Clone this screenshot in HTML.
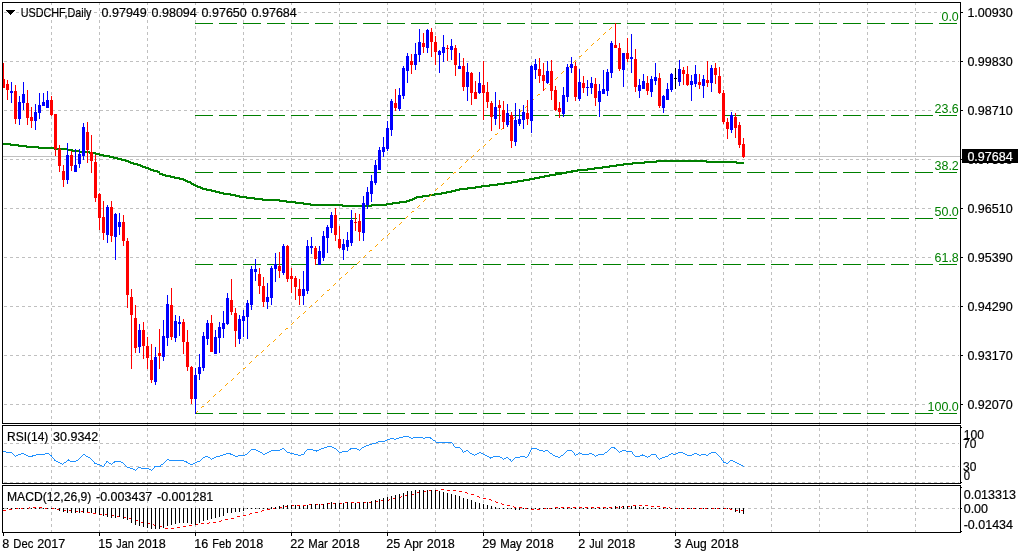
<!DOCTYPE html>
<html lang="en">
<head>
<meta charset="utf-8">
<title>USDCHF, Daily</title>
<style>
html,body{margin:0;padding:0;background:#fff;}
body{width:1020px;height:556px;overflow:hidden;}
svg{display:block;font-family:"Liberation Sans",sans-serif;}
svg text{paint-order:stroke;}
svg path, svg rect{shape-rendering:crispEdges;}
</style>
</head>
<body>
<svg width="1020" height="556" viewBox="0 0 1020 556">
<rect x="0" y="0" width="1020" height="556" fill="#fff"/>
<path fill="#c0c0c0" d="M51 3h1v2h-1zM51 8h1v3h-1zM51 14h1v3h-1zM51 20h1v3h-1zM51 26h1v3h-1zM51 32h1v3h-1zM51 38h1v3h-1zM51 44h1v3h-1zM51 50h1v3h-1zM51 56h1v3h-1zM51 62h1v3h-1zM51 68h1v3h-1zM51 74h1v3h-1zM51 80h1v3h-1zM51 86h1v3h-1zM51 92h1v3h-1zM51 98h1v3h-1zM51 104h1v3h-1zM51 110h1v3h-1zM51 116h1v3h-1zM51 122h1v3h-1zM51 128h1v3h-1zM51 134h1v3h-1zM51 140h1v3h-1zM51 146h1v3h-1zM51 152h1v3h-1zM51 158h1v3h-1zM51 164h1v3h-1zM51 170h1v3h-1zM51 176h1v3h-1zM51 182h1v3h-1zM51 188h1v3h-1zM51 194h1v3h-1zM51 200h1v3h-1zM51 206h1v3h-1zM51 212h1v3h-1zM51 218h1v3h-1zM51 224h1v3h-1zM51 230h1v3h-1zM51 236h1v3h-1zM51 242h1v3h-1zM51 248h1v3h-1zM51 254h1v3h-1zM51 260h1v3h-1zM51 266h1v3h-1zM51 272h1v3h-1zM51 278h1v3h-1zM51 284h1v3h-1zM51 290h1v3h-1zM51 296h1v3h-1zM51 302h1v3h-1zM51 308h1v3h-1zM51 314h1v3h-1zM51 320h1v3h-1zM51 326h1v3h-1zM51 332h1v3h-1zM51 338h1v3h-1zM51 344h1v3h-1zM51 350h1v3h-1zM51 356h1v3h-1zM51 362h1v3h-1zM51 368h1v3h-1zM51 374h1v3h-1zM51 380h1v3h-1zM51 386h1v3h-1zM51 392h1v3h-1zM51 398h1v3h-1zM51 404h1v3h-1zM51 410h1v3h-1zM51 416h1v3h-1zM51 422h1v3h-1zM51 428h1v3h-1zM51 434h1v3h-1zM51 440h1v3h-1zM51 446h1v3h-1zM51 452h1v3h-1zM51 458h1v3h-1zM51 464h1v3h-1zM51 470h1v3h-1zM51 476h1v3h-1zM51 482h1v3h-1zM51 488h1v3h-1zM51 494h1v3h-1zM51 500h1v3h-1zM51 506h1v3h-1zM51 512h1v3h-1zM51 518h1v3h-1zM51 524h1v3h-1zM51 530h1v2h-1z"/>
<path fill="#c0c0c0" d="M99 3h1v2h-1zM99 8h1v3h-1zM99 14h1v3h-1zM99 20h1v3h-1zM99 26h1v3h-1zM99 32h1v3h-1zM99 38h1v3h-1zM99 44h1v3h-1zM99 50h1v3h-1zM99 56h1v3h-1zM99 62h1v3h-1zM99 68h1v3h-1zM99 74h1v3h-1zM99 80h1v3h-1zM99 86h1v3h-1zM99 92h1v3h-1zM99 98h1v3h-1zM99 104h1v3h-1zM99 110h1v3h-1zM99 116h1v3h-1zM99 122h1v3h-1zM99 128h1v3h-1zM99 134h1v3h-1zM99 140h1v3h-1zM99 146h1v3h-1zM99 152h1v3h-1zM99 158h1v3h-1zM99 164h1v3h-1zM99 170h1v3h-1zM99 176h1v3h-1zM99 182h1v3h-1zM99 188h1v3h-1zM99 194h1v3h-1zM99 200h1v3h-1zM99 206h1v3h-1zM99 212h1v3h-1zM99 218h1v3h-1zM99 224h1v3h-1zM99 230h1v3h-1zM99 236h1v3h-1zM99 242h1v3h-1zM99 248h1v3h-1zM99 254h1v3h-1zM99 260h1v3h-1zM99 266h1v3h-1zM99 272h1v3h-1zM99 278h1v3h-1zM99 284h1v3h-1zM99 290h1v3h-1zM99 296h1v3h-1zM99 302h1v3h-1zM99 308h1v3h-1zM99 314h1v3h-1zM99 320h1v3h-1zM99 326h1v3h-1zM99 332h1v3h-1zM99 338h1v3h-1zM99 344h1v3h-1zM99 350h1v3h-1zM99 356h1v3h-1zM99 362h1v3h-1zM99 368h1v3h-1zM99 374h1v3h-1zM99 380h1v3h-1zM99 386h1v3h-1zM99 392h1v3h-1zM99 398h1v3h-1zM99 404h1v3h-1zM99 410h1v3h-1zM99 416h1v3h-1zM99 422h1v3h-1zM99 428h1v3h-1zM99 434h1v3h-1zM99 440h1v3h-1zM99 446h1v3h-1zM99 452h1v3h-1zM99 458h1v3h-1zM99 464h1v3h-1zM99 470h1v3h-1zM99 476h1v3h-1zM99 482h1v3h-1zM99 488h1v3h-1zM99 494h1v3h-1zM99 500h1v3h-1zM99 506h1v3h-1zM99 512h1v3h-1zM99 518h1v3h-1zM99 524h1v3h-1zM99 530h1v2h-1z"/>
<path fill="#c0c0c0" d="M147 3h1v2h-1zM147 8h1v3h-1zM147 14h1v3h-1zM147 20h1v3h-1zM147 26h1v3h-1zM147 32h1v3h-1zM147 38h1v3h-1zM147 44h1v3h-1zM147 50h1v3h-1zM147 56h1v3h-1zM147 62h1v3h-1zM147 68h1v3h-1zM147 74h1v3h-1zM147 80h1v3h-1zM147 86h1v3h-1zM147 92h1v3h-1zM147 98h1v3h-1zM147 104h1v3h-1zM147 110h1v3h-1zM147 116h1v3h-1zM147 122h1v3h-1zM147 128h1v3h-1zM147 134h1v3h-1zM147 140h1v3h-1zM147 146h1v3h-1zM147 152h1v3h-1zM147 158h1v3h-1zM147 164h1v3h-1zM147 170h1v3h-1zM147 176h1v3h-1zM147 182h1v3h-1zM147 188h1v3h-1zM147 194h1v3h-1zM147 200h1v3h-1zM147 206h1v3h-1zM147 212h1v3h-1zM147 218h1v3h-1zM147 224h1v3h-1zM147 230h1v3h-1zM147 236h1v3h-1zM147 242h1v3h-1zM147 248h1v3h-1zM147 254h1v3h-1zM147 260h1v3h-1zM147 266h1v3h-1zM147 272h1v3h-1zM147 278h1v3h-1zM147 284h1v3h-1zM147 290h1v3h-1zM147 296h1v3h-1zM147 302h1v3h-1zM147 308h1v3h-1zM147 314h1v3h-1zM147 320h1v3h-1zM147 326h1v3h-1zM147 332h1v3h-1zM147 338h1v3h-1zM147 344h1v3h-1zM147 350h1v3h-1zM147 356h1v3h-1zM147 362h1v3h-1zM147 368h1v3h-1zM147 374h1v3h-1zM147 380h1v3h-1zM147 386h1v3h-1zM147 392h1v3h-1zM147 398h1v3h-1zM147 404h1v3h-1zM147 410h1v3h-1zM147 416h1v3h-1zM147 422h1v3h-1zM147 428h1v3h-1zM147 434h1v3h-1zM147 440h1v3h-1zM147 446h1v3h-1zM147 452h1v3h-1zM147 458h1v3h-1zM147 464h1v3h-1zM147 470h1v3h-1zM147 476h1v3h-1zM147 482h1v3h-1zM147 488h1v3h-1zM147 494h1v3h-1zM147 500h1v3h-1zM147 506h1v3h-1zM147 512h1v3h-1zM147 518h1v3h-1zM147 524h1v3h-1zM147 530h1v2h-1z"/>
<path fill="#c0c0c0" d="M195 3h1v2h-1zM195 8h1v3h-1zM195 14h1v3h-1zM195 20h1v3h-1zM195 26h1v3h-1zM195 32h1v3h-1zM195 38h1v3h-1zM195 44h1v3h-1zM195 50h1v3h-1zM195 56h1v3h-1zM195 62h1v3h-1zM195 68h1v3h-1zM195 74h1v3h-1zM195 80h1v3h-1zM195 86h1v3h-1zM195 92h1v3h-1zM195 98h1v3h-1zM195 104h1v3h-1zM195 110h1v3h-1zM195 116h1v3h-1zM195 122h1v3h-1zM195 128h1v3h-1zM195 134h1v3h-1zM195 140h1v3h-1zM195 146h1v3h-1zM195 152h1v3h-1zM195 158h1v3h-1zM195 164h1v3h-1zM195 170h1v3h-1zM195 176h1v3h-1zM195 182h1v3h-1zM195 188h1v3h-1zM195 194h1v3h-1zM195 200h1v3h-1zM195 206h1v3h-1zM195 212h1v3h-1zM195 218h1v3h-1zM195 224h1v3h-1zM195 230h1v3h-1zM195 236h1v3h-1zM195 242h1v3h-1zM195 248h1v3h-1zM195 254h1v3h-1zM195 260h1v3h-1zM195 266h1v3h-1zM195 272h1v3h-1zM195 278h1v3h-1zM195 284h1v3h-1zM195 290h1v3h-1zM195 296h1v3h-1zM195 302h1v3h-1zM195 308h1v3h-1zM195 314h1v3h-1zM195 320h1v3h-1zM195 326h1v3h-1zM195 332h1v3h-1zM195 338h1v3h-1zM195 344h1v3h-1zM195 350h1v3h-1zM195 356h1v3h-1zM195 362h1v3h-1zM195 368h1v3h-1zM195 374h1v3h-1zM195 380h1v3h-1zM195 386h1v3h-1zM195 392h1v3h-1zM195 398h1v3h-1zM195 404h1v3h-1zM195 410h1v3h-1zM195 416h1v3h-1zM195 422h1v3h-1zM195 428h1v3h-1zM195 434h1v3h-1zM195 440h1v3h-1zM195 446h1v3h-1zM195 452h1v3h-1zM195 458h1v3h-1zM195 464h1v3h-1zM195 470h1v3h-1zM195 476h1v3h-1zM195 482h1v3h-1zM195 488h1v3h-1zM195 494h1v3h-1zM195 500h1v3h-1zM195 506h1v3h-1zM195 512h1v3h-1zM195 518h1v3h-1zM195 524h1v3h-1zM195 530h1v2h-1z"/>
<path fill="#c0c0c0" d="M243 3h1v2h-1zM243 8h1v3h-1zM243 14h1v3h-1zM243 20h1v3h-1zM243 26h1v3h-1zM243 32h1v3h-1zM243 38h1v3h-1zM243 44h1v3h-1zM243 50h1v3h-1zM243 56h1v3h-1zM243 62h1v3h-1zM243 68h1v3h-1zM243 74h1v3h-1zM243 80h1v3h-1zM243 86h1v3h-1zM243 92h1v3h-1zM243 98h1v3h-1zM243 104h1v3h-1zM243 110h1v3h-1zM243 116h1v3h-1zM243 122h1v3h-1zM243 128h1v3h-1zM243 134h1v3h-1zM243 140h1v3h-1zM243 146h1v3h-1zM243 152h1v3h-1zM243 158h1v3h-1zM243 164h1v3h-1zM243 170h1v3h-1zM243 176h1v3h-1zM243 182h1v3h-1zM243 188h1v3h-1zM243 194h1v3h-1zM243 200h1v3h-1zM243 206h1v3h-1zM243 212h1v3h-1zM243 218h1v3h-1zM243 224h1v3h-1zM243 230h1v3h-1zM243 236h1v3h-1zM243 242h1v3h-1zM243 248h1v3h-1zM243 254h1v3h-1zM243 260h1v3h-1zM243 266h1v3h-1zM243 272h1v3h-1zM243 278h1v3h-1zM243 284h1v3h-1zM243 290h1v3h-1zM243 296h1v3h-1zM243 302h1v3h-1zM243 308h1v3h-1zM243 314h1v3h-1zM243 320h1v3h-1zM243 326h1v3h-1zM243 332h1v3h-1zM243 338h1v3h-1zM243 344h1v3h-1zM243 350h1v3h-1zM243 356h1v3h-1zM243 362h1v3h-1zM243 368h1v3h-1zM243 374h1v3h-1zM243 380h1v3h-1zM243 386h1v3h-1zM243 392h1v3h-1zM243 398h1v3h-1zM243 404h1v3h-1zM243 410h1v3h-1zM243 416h1v3h-1zM243 422h1v3h-1zM243 428h1v3h-1zM243 434h1v3h-1zM243 440h1v3h-1zM243 446h1v3h-1zM243 452h1v3h-1zM243 458h1v3h-1zM243 464h1v3h-1zM243 470h1v3h-1zM243 476h1v3h-1zM243 482h1v3h-1zM243 488h1v3h-1zM243 494h1v3h-1zM243 500h1v3h-1zM243 506h1v3h-1zM243 512h1v3h-1zM243 518h1v3h-1zM243 524h1v3h-1zM243 530h1v2h-1z"/>
<path fill="#c0c0c0" d="M291 3h1v2h-1zM291 8h1v3h-1zM291 14h1v3h-1zM291 20h1v3h-1zM291 26h1v3h-1zM291 32h1v3h-1zM291 38h1v3h-1zM291 44h1v3h-1zM291 50h1v3h-1zM291 56h1v3h-1zM291 62h1v3h-1zM291 68h1v3h-1zM291 74h1v3h-1zM291 80h1v3h-1zM291 86h1v3h-1zM291 92h1v3h-1zM291 98h1v3h-1zM291 104h1v3h-1zM291 110h1v3h-1zM291 116h1v3h-1zM291 122h1v3h-1zM291 128h1v3h-1zM291 134h1v3h-1zM291 140h1v3h-1zM291 146h1v3h-1zM291 152h1v3h-1zM291 158h1v3h-1zM291 164h1v3h-1zM291 170h1v3h-1zM291 176h1v3h-1zM291 182h1v3h-1zM291 188h1v3h-1zM291 194h1v3h-1zM291 200h1v3h-1zM291 206h1v3h-1zM291 212h1v3h-1zM291 218h1v3h-1zM291 224h1v3h-1zM291 230h1v3h-1zM291 236h1v3h-1zM291 242h1v3h-1zM291 248h1v3h-1zM291 254h1v3h-1zM291 260h1v3h-1zM291 266h1v3h-1zM291 272h1v3h-1zM291 278h1v3h-1zM291 284h1v3h-1zM291 290h1v3h-1zM291 296h1v3h-1zM291 302h1v3h-1zM291 308h1v3h-1zM291 314h1v3h-1zM291 320h1v3h-1zM291 326h1v3h-1zM291 332h1v3h-1zM291 338h1v3h-1zM291 344h1v3h-1zM291 350h1v3h-1zM291 356h1v3h-1zM291 362h1v3h-1zM291 368h1v3h-1zM291 374h1v3h-1zM291 380h1v3h-1zM291 386h1v3h-1zM291 392h1v3h-1zM291 398h1v3h-1zM291 404h1v3h-1zM291 410h1v3h-1zM291 416h1v3h-1zM291 422h1v3h-1zM291 428h1v3h-1zM291 434h1v3h-1zM291 440h1v3h-1zM291 446h1v3h-1zM291 452h1v3h-1zM291 458h1v3h-1zM291 464h1v3h-1zM291 470h1v3h-1zM291 476h1v3h-1zM291 482h1v3h-1zM291 488h1v3h-1zM291 494h1v3h-1zM291 500h1v3h-1zM291 506h1v3h-1zM291 512h1v3h-1zM291 518h1v3h-1zM291 524h1v3h-1zM291 530h1v2h-1z"/>
<path fill="#c0c0c0" d="M339 3h1v2h-1zM339 8h1v3h-1zM339 14h1v3h-1zM339 20h1v3h-1zM339 26h1v3h-1zM339 32h1v3h-1zM339 38h1v3h-1zM339 44h1v3h-1zM339 50h1v3h-1zM339 56h1v3h-1zM339 62h1v3h-1zM339 68h1v3h-1zM339 74h1v3h-1zM339 80h1v3h-1zM339 86h1v3h-1zM339 92h1v3h-1zM339 98h1v3h-1zM339 104h1v3h-1zM339 110h1v3h-1zM339 116h1v3h-1zM339 122h1v3h-1zM339 128h1v3h-1zM339 134h1v3h-1zM339 140h1v3h-1zM339 146h1v3h-1zM339 152h1v3h-1zM339 158h1v3h-1zM339 164h1v3h-1zM339 170h1v3h-1zM339 176h1v3h-1zM339 182h1v3h-1zM339 188h1v3h-1zM339 194h1v3h-1zM339 200h1v3h-1zM339 206h1v3h-1zM339 212h1v3h-1zM339 218h1v3h-1zM339 224h1v3h-1zM339 230h1v3h-1zM339 236h1v3h-1zM339 242h1v3h-1zM339 248h1v3h-1zM339 254h1v3h-1zM339 260h1v3h-1zM339 266h1v3h-1zM339 272h1v3h-1zM339 278h1v3h-1zM339 284h1v3h-1zM339 290h1v3h-1zM339 296h1v3h-1zM339 302h1v3h-1zM339 308h1v3h-1zM339 314h1v3h-1zM339 320h1v3h-1zM339 326h1v3h-1zM339 332h1v3h-1zM339 338h1v3h-1zM339 344h1v3h-1zM339 350h1v3h-1zM339 356h1v3h-1zM339 362h1v3h-1zM339 368h1v3h-1zM339 374h1v3h-1zM339 380h1v3h-1zM339 386h1v3h-1zM339 392h1v3h-1zM339 398h1v3h-1zM339 404h1v3h-1zM339 410h1v3h-1zM339 416h1v3h-1zM339 422h1v3h-1zM339 428h1v3h-1zM339 434h1v3h-1zM339 440h1v3h-1zM339 446h1v3h-1zM339 452h1v3h-1zM339 458h1v3h-1zM339 464h1v3h-1zM339 470h1v3h-1zM339 476h1v3h-1zM339 482h1v3h-1zM339 488h1v3h-1zM339 494h1v3h-1zM339 500h1v3h-1zM339 506h1v3h-1zM339 512h1v3h-1zM339 518h1v3h-1zM339 524h1v3h-1zM339 530h1v2h-1z"/>
<path fill="#c0c0c0" d="M387 3h1v2h-1zM387 8h1v3h-1zM387 14h1v3h-1zM387 20h1v3h-1zM387 26h1v3h-1zM387 32h1v3h-1zM387 38h1v3h-1zM387 44h1v3h-1zM387 50h1v3h-1zM387 56h1v3h-1zM387 62h1v3h-1zM387 68h1v3h-1zM387 74h1v3h-1zM387 80h1v3h-1zM387 86h1v3h-1zM387 92h1v3h-1zM387 98h1v3h-1zM387 104h1v3h-1zM387 110h1v3h-1zM387 116h1v3h-1zM387 122h1v3h-1zM387 128h1v3h-1zM387 134h1v3h-1zM387 140h1v3h-1zM387 146h1v3h-1zM387 152h1v3h-1zM387 158h1v3h-1zM387 164h1v3h-1zM387 170h1v3h-1zM387 176h1v3h-1zM387 182h1v3h-1zM387 188h1v3h-1zM387 194h1v3h-1zM387 200h1v3h-1zM387 206h1v3h-1zM387 212h1v3h-1zM387 218h1v3h-1zM387 224h1v3h-1zM387 230h1v3h-1zM387 236h1v3h-1zM387 242h1v3h-1zM387 248h1v3h-1zM387 254h1v3h-1zM387 260h1v3h-1zM387 266h1v3h-1zM387 272h1v3h-1zM387 278h1v3h-1zM387 284h1v3h-1zM387 290h1v3h-1zM387 296h1v3h-1zM387 302h1v3h-1zM387 308h1v3h-1zM387 314h1v3h-1zM387 320h1v3h-1zM387 326h1v3h-1zM387 332h1v3h-1zM387 338h1v3h-1zM387 344h1v3h-1zM387 350h1v3h-1zM387 356h1v3h-1zM387 362h1v3h-1zM387 368h1v3h-1zM387 374h1v3h-1zM387 380h1v3h-1zM387 386h1v3h-1zM387 392h1v3h-1zM387 398h1v3h-1zM387 404h1v3h-1zM387 410h1v3h-1zM387 416h1v3h-1zM387 422h1v3h-1zM387 428h1v3h-1zM387 434h1v3h-1zM387 440h1v3h-1zM387 446h1v3h-1zM387 452h1v3h-1zM387 458h1v3h-1zM387 464h1v3h-1zM387 470h1v3h-1zM387 476h1v3h-1zM387 482h1v3h-1zM387 488h1v3h-1zM387 494h1v3h-1zM387 500h1v3h-1zM387 506h1v3h-1zM387 512h1v3h-1zM387 518h1v3h-1zM387 524h1v3h-1zM387 530h1v2h-1z"/>
<path fill="#c0c0c0" d="M435 3h1v2h-1zM435 8h1v3h-1zM435 14h1v3h-1zM435 20h1v3h-1zM435 26h1v3h-1zM435 32h1v3h-1zM435 38h1v3h-1zM435 44h1v3h-1zM435 50h1v3h-1zM435 56h1v3h-1zM435 62h1v3h-1zM435 68h1v3h-1zM435 74h1v3h-1zM435 80h1v3h-1zM435 86h1v3h-1zM435 92h1v3h-1zM435 98h1v3h-1zM435 104h1v3h-1zM435 110h1v3h-1zM435 116h1v3h-1zM435 122h1v3h-1zM435 128h1v3h-1zM435 134h1v3h-1zM435 140h1v3h-1zM435 146h1v3h-1zM435 152h1v3h-1zM435 158h1v3h-1zM435 164h1v3h-1zM435 170h1v3h-1zM435 176h1v3h-1zM435 182h1v3h-1zM435 188h1v3h-1zM435 194h1v3h-1zM435 200h1v3h-1zM435 206h1v3h-1zM435 212h1v3h-1zM435 218h1v3h-1zM435 224h1v3h-1zM435 230h1v3h-1zM435 236h1v3h-1zM435 242h1v3h-1zM435 248h1v3h-1zM435 254h1v3h-1zM435 260h1v3h-1zM435 266h1v3h-1zM435 272h1v3h-1zM435 278h1v3h-1zM435 284h1v3h-1zM435 290h1v3h-1zM435 296h1v3h-1zM435 302h1v3h-1zM435 308h1v3h-1zM435 314h1v3h-1zM435 320h1v3h-1zM435 326h1v3h-1zM435 332h1v3h-1zM435 338h1v3h-1zM435 344h1v3h-1zM435 350h1v3h-1zM435 356h1v3h-1zM435 362h1v3h-1zM435 368h1v3h-1zM435 374h1v3h-1zM435 380h1v3h-1zM435 386h1v3h-1zM435 392h1v3h-1zM435 398h1v3h-1zM435 404h1v3h-1zM435 410h1v3h-1zM435 416h1v3h-1zM435 422h1v3h-1zM435 428h1v3h-1zM435 434h1v3h-1zM435 440h1v3h-1zM435 446h1v3h-1zM435 452h1v3h-1zM435 458h1v3h-1zM435 464h1v3h-1zM435 470h1v3h-1zM435 476h1v3h-1zM435 482h1v3h-1zM435 488h1v3h-1zM435 494h1v3h-1zM435 500h1v3h-1zM435 506h1v3h-1zM435 512h1v3h-1zM435 518h1v3h-1zM435 524h1v3h-1zM435 530h1v2h-1z"/>
<path fill="#c0c0c0" d="M483 3h1v2h-1zM483 8h1v3h-1zM483 14h1v3h-1zM483 20h1v3h-1zM483 26h1v3h-1zM483 32h1v3h-1zM483 38h1v3h-1zM483 44h1v3h-1zM483 50h1v3h-1zM483 56h1v3h-1zM483 62h1v3h-1zM483 68h1v3h-1zM483 74h1v3h-1zM483 80h1v3h-1zM483 86h1v3h-1zM483 92h1v3h-1zM483 98h1v3h-1zM483 104h1v3h-1zM483 110h1v3h-1zM483 116h1v3h-1zM483 122h1v3h-1zM483 128h1v3h-1zM483 134h1v3h-1zM483 140h1v3h-1zM483 146h1v3h-1zM483 152h1v3h-1zM483 158h1v3h-1zM483 164h1v3h-1zM483 170h1v3h-1zM483 176h1v3h-1zM483 182h1v3h-1zM483 188h1v3h-1zM483 194h1v3h-1zM483 200h1v3h-1zM483 206h1v3h-1zM483 212h1v3h-1zM483 218h1v3h-1zM483 224h1v3h-1zM483 230h1v3h-1zM483 236h1v3h-1zM483 242h1v3h-1zM483 248h1v3h-1zM483 254h1v3h-1zM483 260h1v3h-1zM483 266h1v3h-1zM483 272h1v3h-1zM483 278h1v3h-1zM483 284h1v3h-1zM483 290h1v3h-1zM483 296h1v3h-1zM483 302h1v3h-1zM483 308h1v3h-1zM483 314h1v3h-1zM483 320h1v3h-1zM483 326h1v3h-1zM483 332h1v3h-1zM483 338h1v3h-1zM483 344h1v3h-1zM483 350h1v3h-1zM483 356h1v3h-1zM483 362h1v3h-1zM483 368h1v3h-1zM483 374h1v3h-1zM483 380h1v3h-1zM483 386h1v3h-1zM483 392h1v3h-1zM483 398h1v3h-1zM483 404h1v3h-1zM483 410h1v3h-1zM483 416h1v3h-1zM483 422h1v3h-1zM483 428h1v3h-1zM483 434h1v3h-1zM483 440h1v3h-1zM483 446h1v3h-1zM483 452h1v3h-1zM483 458h1v3h-1zM483 464h1v3h-1zM483 470h1v3h-1zM483 476h1v3h-1zM483 482h1v3h-1zM483 488h1v3h-1zM483 494h1v3h-1zM483 500h1v3h-1zM483 506h1v3h-1zM483 512h1v3h-1zM483 518h1v3h-1zM483 524h1v3h-1zM483 530h1v2h-1z"/>
<path fill="#c0c0c0" d="M531 3h1v2h-1zM531 8h1v3h-1zM531 14h1v3h-1zM531 20h1v3h-1zM531 26h1v3h-1zM531 32h1v3h-1zM531 38h1v3h-1zM531 44h1v3h-1zM531 50h1v3h-1zM531 56h1v3h-1zM531 62h1v3h-1zM531 68h1v3h-1zM531 74h1v3h-1zM531 80h1v3h-1zM531 86h1v3h-1zM531 92h1v3h-1zM531 98h1v3h-1zM531 104h1v3h-1zM531 110h1v3h-1zM531 116h1v3h-1zM531 122h1v3h-1zM531 128h1v3h-1zM531 134h1v3h-1zM531 140h1v3h-1zM531 146h1v3h-1zM531 152h1v3h-1zM531 158h1v3h-1zM531 164h1v3h-1zM531 170h1v3h-1zM531 176h1v3h-1zM531 182h1v3h-1zM531 188h1v3h-1zM531 194h1v3h-1zM531 200h1v3h-1zM531 206h1v3h-1zM531 212h1v3h-1zM531 218h1v3h-1zM531 224h1v3h-1zM531 230h1v3h-1zM531 236h1v3h-1zM531 242h1v3h-1zM531 248h1v3h-1zM531 254h1v3h-1zM531 260h1v3h-1zM531 266h1v3h-1zM531 272h1v3h-1zM531 278h1v3h-1zM531 284h1v3h-1zM531 290h1v3h-1zM531 296h1v3h-1zM531 302h1v3h-1zM531 308h1v3h-1zM531 314h1v3h-1zM531 320h1v3h-1zM531 326h1v3h-1zM531 332h1v3h-1zM531 338h1v3h-1zM531 344h1v3h-1zM531 350h1v3h-1zM531 356h1v3h-1zM531 362h1v3h-1zM531 368h1v3h-1zM531 374h1v3h-1zM531 380h1v3h-1zM531 386h1v3h-1zM531 392h1v3h-1zM531 398h1v3h-1zM531 404h1v3h-1zM531 410h1v3h-1zM531 416h1v3h-1zM531 422h1v3h-1zM531 428h1v3h-1zM531 434h1v3h-1zM531 440h1v3h-1zM531 446h1v3h-1zM531 452h1v3h-1zM531 458h1v3h-1zM531 464h1v3h-1zM531 470h1v3h-1zM531 476h1v3h-1zM531 482h1v3h-1zM531 488h1v3h-1zM531 494h1v3h-1zM531 500h1v3h-1zM531 506h1v3h-1zM531 512h1v3h-1zM531 518h1v3h-1zM531 524h1v3h-1zM531 530h1v2h-1z"/>
<path fill="#c0c0c0" d="M579 3h1v2h-1zM579 8h1v3h-1zM579 14h1v3h-1zM579 20h1v3h-1zM579 26h1v3h-1zM579 32h1v3h-1zM579 38h1v3h-1zM579 44h1v3h-1zM579 50h1v3h-1zM579 56h1v3h-1zM579 62h1v3h-1zM579 68h1v3h-1zM579 74h1v3h-1zM579 80h1v3h-1zM579 86h1v3h-1zM579 92h1v3h-1zM579 98h1v3h-1zM579 104h1v3h-1zM579 110h1v3h-1zM579 116h1v3h-1zM579 122h1v3h-1zM579 128h1v3h-1zM579 134h1v3h-1zM579 140h1v3h-1zM579 146h1v3h-1zM579 152h1v3h-1zM579 158h1v3h-1zM579 164h1v3h-1zM579 170h1v3h-1zM579 176h1v3h-1zM579 182h1v3h-1zM579 188h1v3h-1zM579 194h1v3h-1zM579 200h1v3h-1zM579 206h1v3h-1zM579 212h1v3h-1zM579 218h1v3h-1zM579 224h1v3h-1zM579 230h1v3h-1zM579 236h1v3h-1zM579 242h1v3h-1zM579 248h1v3h-1zM579 254h1v3h-1zM579 260h1v3h-1zM579 266h1v3h-1zM579 272h1v3h-1zM579 278h1v3h-1zM579 284h1v3h-1zM579 290h1v3h-1zM579 296h1v3h-1zM579 302h1v3h-1zM579 308h1v3h-1zM579 314h1v3h-1zM579 320h1v3h-1zM579 326h1v3h-1zM579 332h1v3h-1zM579 338h1v3h-1zM579 344h1v3h-1zM579 350h1v3h-1zM579 356h1v3h-1zM579 362h1v3h-1zM579 368h1v3h-1zM579 374h1v3h-1zM579 380h1v3h-1zM579 386h1v3h-1zM579 392h1v3h-1zM579 398h1v3h-1zM579 404h1v3h-1zM579 410h1v3h-1zM579 416h1v3h-1zM579 422h1v3h-1zM579 428h1v3h-1zM579 434h1v3h-1zM579 440h1v3h-1zM579 446h1v3h-1zM579 452h1v3h-1zM579 458h1v3h-1zM579 464h1v3h-1zM579 470h1v3h-1zM579 476h1v3h-1zM579 482h1v3h-1zM579 488h1v3h-1zM579 494h1v3h-1zM579 500h1v3h-1zM579 506h1v3h-1zM579 512h1v3h-1zM579 518h1v3h-1zM579 524h1v3h-1zM579 530h1v2h-1z"/>
<path fill="#c0c0c0" d="M627 3h1v2h-1zM627 8h1v3h-1zM627 14h1v3h-1zM627 20h1v3h-1zM627 26h1v3h-1zM627 32h1v3h-1zM627 38h1v3h-1zM627 44h1v3h-1zM627 50h1v3h-1zM627 56h1v3h-1zM627 62h1v3h-1zM627 68h1v3h-1zM627 74h1v3h-1zM627 80h1v3h-1zM627 86h1v3h-1zM627 92h1v3h-1zM627 98h1v3h-1zM627 104h1v3h-1zM627 110h1v3h-1zM627 116h1v3h-1zM627 122h1v3h-1zM627 128h1v3h-1zM627 134h1v3h-1zM627 140h1v3h-1zM627 146h1v3h-1zM627 152h1v3h-1zM627 158h1v3h-1zM627 164h1v3h-1zM627 170h1v3h-1zM627 176h1v3h-1zM627 182h1v3h-1zM627 188h1v3h-1zM627 194h1v3h-1zM627 200h1v3h-1zM627 206h1v3h-1zM627 212h1v3h-1zM627 218h1v3h-1zM627 224h1v3h-1zM627 230h1v3h-1zM627 236h1v3h-1zM627 242h1v3h-1zM627 248h1v3h-1zM627 254h1v3h-1zM627 260h1v3h-1zM627 266h1v3h-1zM627 272h1v3h-1zM627 278h1v3h-1zM627 284h1v3h-1zM627 290h1v3h-1zM627 296h1v3h-1zM627 302h1v3h-1zM627 308h1v3h-1zM627 314h1v3h-1zM627 320h1v3h-1zM627 326h1v3h-1zM627 332h1v3h-1zM627 338h1v3h-1zM627 344h1v3h-1zM627 350h1v3h-1zM627 356h1v3h-1zM627 362h1v3h-1zM627 368h1v3h-1zM627 374h1v3h-1zM627 380h1v3h-1zM627 386h1v3h-1zM627 392h1v3h-1zM627 398h1v3h-1zM627 404h1v3h-1zM627 410h1v3h-1zM627 416h1v3h-1zM627 422h1v3h-1zM627 428h1v3h-1zM627 434h1v3h-1zM627 440h1v3h-1zM627 446h1v3h-1zM627 452h1v3h-1zM627 458h1v3h-1zM627 464h1v3h-1zM627 470h1v3h-1zM627 476h1v3h-1zM627 482h1v3h-1zM627 488h1v3h-1zM627 494h1v3h-1zM627 500h1v3h-1zM627 506h1v3h-1zM627 512h1v3h-1zM627 518h1v3h-1zM627 524h1v3h-1zM627 530h1v2h-1z"/>
<path fill="#c0c0c0" d="M675 3h1v2h-1zM675 8h1v3h-1zM675 14h1v3h-1zM675 20h1v3h-1zM675 26h1v3h-1zM675 32h1v3h-1zM675 38h1v3h-1zM675 44h1v3h-1zM675 50h1v3h-1zM675 56h1v3h-1zM675 62h1v3h-1zM675 68h1v3h-1zM675 74h1v3h-1zM675 80h1v3h-1zM675 86h1v3h-1zM675 92h1v3h-1zM675 98h1v3h-1zM675 104h1v3h-1zM675 110h1v3h-1zM675 116h1v3h-1zM675 122h1v3h-1zM675 128h1v3h-1zM675 134h1v3h-1zM675 140h1v3h-1zM675 146h1v3h-1zM675 152h1v3h-1zM675 158h1v3h-1zM675 164h1v3h-1zM675 170h1v3h-1zM675 176h1v3h-1zM675 182h1v3h-1zM675 188h1v3h-1zM675 194h1v3h-1zM675 200h1v3h-1zM675 206h1v3h-1zM675 212h1v3h-1zM675 218h1v3h-1zM675 224h1v3h-1zM675 230h1v3h-1zM675 236h1v3h-1zM675 242h1v3h-1zM675 248h1v3h-1zM675 254h1v3h-1zM675 260h1v3h-1zM675 266h1v3h-1zM675 272h1v3h-1zM675 278h1v3h-1zM675 284h1v3h-1zM675 290h1v3h-1zM675 296h1v3h-1zM675 302h1v3h-1zM675 308h1v3h-1zM675 314h1v3h-1zM675 320h1v3h-1zM675 326h1v3h-1zM675 332h1v3h-1zM675 338h1v3h-1zM675 344h1v3h-1zM675 350h1v3h-1zM675 356h1v3h-1zM675 362h1v3h-1zM675 368h1v3h-1zM675 374h1v3h-1zM675 380h1v3h-1zM675 386h1v3h-1zM675 392h1v3h-1zM675 398h1v3h-1zM675 404h1v3h-1zM675 410h1v3h-1zM675 416h1v3h-1zM675 422h1v3h-1zM675 428h1v3h-1zM675 434h1v3h-1zM675 440h1v3h-1zM675 446h1v3h-1zM675 452h1v3h-1zM675 458h1v3h-1zM675 464h1v3h-1zM675 470h1v3h-1zM675 476h1v3h-1zM675 482h1v3h-1zM675 488h1v3h-1zM675 494h1v3h-1zM675 500h1v3h-1zM675 506h1v3h-1zM675 512h1v3h-1zM675 518h1v3h-1zM675 524h1v3h-1zM675 530h1v2h-1z"/>
<path fill="#c0c0c0" d="M723 3h1v2h-1zM723 8h1v3h-1zM723 14h1v3h-1zM723 20h1v3h-1zM723 26h1v3h-1zM723 32h1v3h-1zM723 38h1v3h-1zM723 44h1v3h-1zM723 50h1v3h-1zM723 56h1v3h-1zM723 62h1v3h-1zM723 68h1v3h-1zM723 74h1v3h-1zM723 80h1v3h-1zM723 86h1v3h-1zM723 92h1v3h-1zM723 98h1v3h-1zM723 104h1v3h-1zM723 110h1v3h-1zM723 116h1v3h-1zM723 122h1v3h-1zM723 128h1v3h-1zM723 134h1v3h-1zM723 140h1v3h-1zM723 146h1v3h-1zM723 152h1v3h-1zM723 158h1v3h-1zM723 164h1v3h-1zM723 170h1v3h-1zM723 176h1v3h-1zM723 182h1v3h-1zM723 188h1v3h-1zM723 194h1v3h-1zM723 200h1v3h-1zM723 206h1v3h-1zM723 212h1v3h-1zM723 218h1v3h-1zM723 224h1v3h-1zM723 230h1v3h-1zM723 236h1v3h-1zM723 242h1v3h-1zM723 248h1v3h-1zM723 254h1v3h-1zM723 260h1v3h-1zM723 266h1v3h-1zM723 272h1v3h-1zM723 278h1v3h-1zM723 284h1v3h-1zM723 290h1v3h-1zM723 296h1v3h-1zM723 302h1v3h-1zM723 308h1v3h-1zM723 314h1v3h-1zM723 320h1v3h-1zM723 326h1v3h-1zM723 332h1v3h-1zM723 338h1v3h-1zM723 344h1v3h-1zM723 350h1v3h-1zM723 356h1v3h-1zM723 362h1v3h-1zM723 368h1v3h-1zM723 374h1v3h-1zM723 380h1v3h-1zM723 386h1v3h-1zM723 392h1v3h-1zM723 398h1v3h-1zM723 404h1v3h-1zM723 410h1v3h-1zM723 416h1v3h-1zM723 422h1v3h-1zM723 428h1v3h-1zM723 434h1v3h-1zM723 440h1v3h-1zM723 446h1v3h-1zM723 452h1v3h-1zM723 458h1v3h-1zM723 464h1v3h-1zM723 470h1v3h-1zM723 476h1v3h-1zM723 482h1v3h-1zM723 488h1v3h-1zM723 494h1v3h-1zM723 500h1v3h-1zM723 506h1v3h-1zM723 512h1v3h-1zM723 518h1v3h-1zM723 524h1v3h-1zM723 530h1v2h-1z"/>
<path fill="#c0c0c0" d="M771 3h1v2h-1zM771 8h1v3h-1zM771 14h1v3h-1zM771 20h1v3h-1zM771 26h1v3h-1zM771 32h1v3h-1zM771 38h1v3h-1zM771 44h1v3h-1zM771 50h1v3h-1zM771 56h1v3h-1zM771 62h1v3h-1zM771 68h1v3h-1zM771 74h1v3h-1zM771 80h1v3h-1zM771 86h1v3h-1zM771 92h1v3h-1zM771 98h1v3h-1zM771 104h1v3h-1zM771 110h1v3h-1zM771 116h1v3h-1zM771 122h1v3h-1zM771 128h1v3h-1zM771 134h1v3h-1zM771 140h1v3h-1zM771 146h1v3h-1zM771 152h1v3h-1zM771 158h1v3h-1zM771 164h1v3h-1zM771 170h1v3h-1zM771 176h1v3h-1zM771 182h1v3h-1zM771 188h1v3h-1zM771 194h1v3h-1zM771 200h1v3h-1zM771 206h1v3h-1zM771 212h1v3h-1zM771 218h1v3h-1zM771 224h1v3h-1zM771 230h1v3h-1zM771 236h1v3h-1zM771 242h1v3h-1zM771 248h1v3h-1zM771 254h1v3h-1zM771 260h1v3h-1zM771 266h1v3h-1zM771 272h1v3h-1zM771 278h1v3h-1zM771 284h1v3h-1zM771 290h1v3h-1zM771 296h1v3h-1zM771 302h1v3h-1zM771 308h1v3h-1zM771 314h1v3h-1zM771 320h1v3h-1zM771 326h1v3h-1zM771 332h1v3h-1zM771 338h1v3h-1zM771 344h1v3h-1zM771 350h1v3h-1zM771 356h1v3h-1zM771 362h1v3h-1zM771 368h1v3h-1zM771 374h1v3h-1zM771 380h1v3h-1zM771 386h1v3h-1zM771 392h1v3h-1zM771 398h1v3h-1zM771 404h1v3h-1zM771 410h1v3h-1zM771 416h1v3h-1zM771 422h1v3h-1zM771 428h1v3h-1zM771 434h1v3h-1zM771 440h1v3h-1zM771 446h1v3h-1zM771 452h1v3h-1zM771 458h1v3h-1zM771 464h1v3h-1zM771 470h1v3h-1zM771 476h1v3h-1zM771 482h1v3h-1zM771 488h1v3h-1zM771 494h1v3h-1zM771 500h1v3h-1zM771 506h1v3h-1zM771 512h1v3h-1zM771 518h1v3h-1zM771 524h1v3h-1zM771 530h1v2h-1z"/>
<path fill="#c0c0c0" d="M819 3h1v2h-1zM819 8h1v3h-1zM819 14h1v3h-1zM819 20h1v3h-1zM819 26h1v3h-1zM819 32h1v3h-1zM819 38h1v3h-1zM819 44h1v3h-1zM819 50h1v3h-1zM819 56h1v3h-1zM819 62h1v3h-1zM819 68h1v3h-1zM819 74h1v3h-1zM819 80h1v3h-1zM819 86h1v3h-1zM819 92h1v3h-1zM819 98h1v3h-1zM819 104h1v3h-1zM819 110h1v3h-1zM819 116h1v3h-1zM819 122h1v3h-1zM819 128h1v3h-1zM819 134h1v3h-1zM819 140h1v3h-1zM819 146h1v3h-1zM819 152h1v3h-1zM819 158h1v3h-1zM819 164h1v3h-1zM819 170h1v3h-1zM819 176h1v3h-1zM819 182h1v3h-1zM819 188h1v3h-1zM819 194h1v3h-1zM819 200h1v3h-1zM819 206h1v3h-1zM819 212h1v3h-1zM819 218h1v3h-1zM819 224h1v3h-1zM819 230h1v3h-1zM819 236h1v3h-1zM819 242h1v3h-1zM819 248h1v3h-1zM819 254h1v3h-1zM819 260h1v3h-1zM819 266h1v3h-1zM819 272h1v3h-1zM819 278h1v3h-1zM819 284h1v3h-1zM819 290h1v3h-1zM819 296h1v3h-1zM819 302h1v3h-1zM819 308h1v3h-1zM819 314h1v3h-1zM819 320h1v3h-1zM819 326h1v3h-1zM819 332h1v3h-1zM819 338h1v3h-1zM819 344h1v3h-1zM819 350h1v3h-1zM819 356h1v3h-1zM819 362h1v3h-1zM819 368h1v3h-1zM819 374h1v3h-1zM819 380h1v3h-1zM819 386h1v3h-1zM819 392h1v3h-1zM819 398h1v3h-1zM819 404h1v3h-1zM819 410h1v3h-1zM819 416h1v3h-1zM819 422h1v3h-1zM819 428h1v3h-1zM819 434h1v3h-1zM819 440h1v3h-1zM819 446h1v3h-1zM819 452h1v3h-1zM819 458h1v3h-1zM819 464h1v3h-1zM819 470h1v3h-1zM819 476h1v3h-1zM819 482h1v3h-1zM819 488h1v3h-1zM819 494h1v3h-1zM819 500h1v3h-1zM819 506h1v3h-1zM819 512h1v3h-1zM819 518h1v3h-1zM819 524h1v3h-1zM819 530h1v2h-1z"/>
<path fill="#c0c0c0" d="M867 3h1v2h-1zM867 8h1v3h-1zM867 14h1v3h-1zM867 20h1v3h-1zM867 26h1v3h-1zM867 32h1v3h-1zM867 38h1v3h-1zM867 44h1v3h-1zM867 50h1v3h-1zM867 56h1v3h-1zM867 62h1v3h-1zM867 68h1v3h-1zM867 74h1v3h-1zM867 80h1v3h-1zM867 86h1v3h-1zM867 92h1v3h-1zM867 98h1v3h-1zM867 104h1v3h-1zM867 110h1v3h-1zM867 116h1v3h-1zM867 122h1v3h-1zM867 128h1v3h-1zM867 134h1v3h-1zM867 140h1v3h-1zM867 146h1v3h-1zM867 152h1v3h-1zM867 158h1v3h-1zM867 164h1v3h-1zM867 170h1v3h-1zM867 176h1v3h-1zM867 182h1v3h-1zM867 188h1v3h-1zM867 194h1v3h-1zM867 200h1v3h-1zM867 206h1v3h-1zM867 212h1v3h-1zM867 218h1v3h-1zM867 224h1v3h-1zM867 230h1v3h-1zM867 236h1v3h-1zM867 242h1v3h-1zM867 248h1v3h-1zM867 254h1v3h-1zM867 260h1v3h-1zM867 266h1v3h-1zM867 272h1v3h-1zM867 278h1v3h-1zM867 284h1v3h-1zM867 290h1v3h-1zM867 296h1v3h-1zM867 302h1v3h-1zM867 308h1v3h-1zM867 314h1v3h-1zM867 320h1v3h-1zM867 326h1v3h-1zM867 332h1v3h-1zM867 338h1v3h-1zM867 344h1v3h-1zM867 350h1v3h-1zM867 356h1v3h-1zM867 362h1v3h-1zM867 368h1v3h-1zM867 374h1v3h-1zM867 380h1v3h-1zM867 386h1v3h-1zM867 392h1v3h-1zM867 398h1v3h-1zM867 404h1v3h-1zM867 410h1v3h-1zM867 416h1v3h-1zM867 422h1v3h-1zM867 428h1v3h-1zM867 434h1v3h-1zM867 440h1v3h-1zM867 446h1v3h-1zM867 452h1v3h-1zM867 458h1v3h-1zM867 464h1v3h-1zM867 470h1v3h-1zM867 476h1v3h-1zM867 482h1v3h-1zM867 488h1v3h-1zM867 494h1v3h-1zM867 500h1v3h-1zM867 506h1v3h-1zM867 512h1v3h-1zM867 518h1v3h-1zM867 524h1v3h-1zM867 530h1v2h-1z"/>
<path fill="#c0c0c0" d="M915 3h1v2h-1zM915 8h1v3h-1zM915 14h1v3h-1zM915 20h1v3h-1zM915 26h1v3h-1zM915 32h1v3h-1zM915 38h1v3h-1zM915 44h1v3h-1zM915 50h1v3h-1zM915 56h1v3h-1zM915 62h1v3h-1zM915 68h1v3h-1zM915 74h1v3h-1zM915 80h1v3h-1zM915 86h1v3h-1zM915 92h1v3h-1zM915 98h1v3h-1zM915 104h1v3h-1zM915 110h1v3h-1zM915 116h1v3h-1zM915 122h1v3h-1zM915 128h1v3h-1zM915 134h1v3h-1zM915 140h1v3h-1zM915 146h1v3h-1zM915 152h1v3h-1zM915 158h1v3h-1zM915 164h1v3h-1zM915 170h1v3h-1zM915 176h1v3h-1zM915 182h1v3h-1zM915 188h1v3h-1zM915 194h1v3h-1zM915 200h1v3h-1zM915 206h1v3h-1zM915 212h1v3h-1zM915 218h1v3h-1zM915 224h1v3h-1zM915 230h1v3h-1zM915 236h1v3h-1zM915 242h1v3h-1zM915 248h1v3h-1zM915 254h1v3h-1zM915 260h1v3h-1zM915 266h1v3h-1zM915 272h1v3h-1zM915 278h1v3h-1zM915 284h1v3h-1zM915 290h1v3h-1zM915 296h1v3h-1zM915 302h1v3h-1zM915 308h1v3h-1zM915 314h1v3h-1zM915 320h1v3h-1zM915 326h1v3h-1zM915 332h1v3h-1zM915 338h1v3h-1zM915 344h1v3h-1zM915 350h1v3h-1zM915 356h1v3h-1zM915 362h1v3h-1zM915 368h1v3h-1zM915 374h1v3h-1zM915 380h1v3h-1zM915 386h1v3h-1zM915 392h1v3h-1zM915 398h1v3h-1zM915 404h1v3h-1zM915 410h1v3h-1zM915 416h1v3h-1zM915 422h1v3h-1zM915 428h1v3h-1zM915 434h1v3h-1zM915 440h1v3h-1zM915 446h1v3h-1zM915 452h1v3h-1zM915 458h1v3h-1zM915 464h1v3h-1zM915 470h1v3h-1zM915 476h1v3h-1zM915 482h1v3h-1zM915 488h1v3h-1zM915 494h1v3h-1zM915 500h1v3h-1zM915 506h1v3h-1zM915 512h1v3h-1zM915 518h1v3h-1zM915 524h1v3h-1zM915 530h1v2h-1z"/>
<path fill="#c0c0c0" d="M4 12h3v1h-3zM10 12h3v1h-3zM16 12h3v1h-3zM22 12h3v1h-3zM28 12h3v1h-3zM34 12h3v1h-3zM40 12h3v1h-3zM46 12h3v1h-3zM52 12h3v1h-3zM58 12h3v1h-3zM64 12h3v1h-3zM70 12h3v1h-3zM76 12h3v1h-3zM82 12h3v1h-3zM88 12h3v1h-3zM94 12h3v1h-3zM100 12h3v1h-3zM106 12h3v1h-3zM112 12h3v1h-3zM118 12h3v1h-3zM124 12h3v1h-3zM130 12h3v1h-3zM136 12h3v1h-3zM142 12h3v1h-3zM148 12h3v1h-3zM154 12h3v1h-3zM160 12h3v1h-3zM166 12h3v1h-3zM172 12h3v1h-3zM178 12h3v1h-3zM184 12h3v1h-3zM190 12h3v1h-3zM196 12h3v1h-3zM202 12h3v1h-3zM208 12h3v1h-3zM214 12h3v1h-3zM220 12h3v1h-3zM226 12h3v1h-3zM232 12h3v1h-3zM238 12h3v1h-3zM244 12h3v1h-3zM250 12h3v1h-3zM256 12h3v1h-3zM262 12h3v1h-3zM268 12h3v1h-3zM274 12h3v1h-3zM280 12h3v1h-3zM286 12h3v1h-3zM292 12h3v1h-3zM298 12h3v1h-3zM304 12h3v1h-3zM310 12h3v1h-3zM316 12h3v1h-3zM322 12h3v1h-3zM328 12h3v1h-3zM334 12h3v1h-3zM340 12h3v1h-3zM346 12h3v1h-3zM352 12h3v1h-3zM358 12h3v1h-3zM364 12h3v1h-3zM370 12h3v1h-3zM376 12h3v1h-3zM382 12h3v1h-3zM388 12h3v1h-3zM394 12h3v1h-3zM400 12h3v1h-3zM406 12h3v1h-3zM412 12h3v1h-3zM418 12h3v1h-3zM424 12h3v1h-3zM430 12h3v1h-3zM436 12h3v1h-3zM442 12h3v1h-3zM448 12h3v1h-3zM454 12h3v1h-3zM460 12h3v1h-3zM466 12h3v1h-3zM472 12h3v1h-3zM478 12h3v1h-3zM484 12h3v1h-3zM490 12h3v1h-3zM496 12h3v1h-3zM502 12h3v1h-3zM508 12h3v1h-3zM514 12h3v1h-3zM520 12h3v1h-3zM526 12h3v1h-3zM532 12h3v1h-3zM538 12h3v1h-3zM544 12h3v1h-3zM550 12h3v1h-3zM556 12h3v1h-3zM562 12h3v1h-3zM568 12h3v1h-3zM574 12h3v1h-3zM580 12h3v1h-3zM586 12h3v1h-3zM592 12h3v1h-3zM598 12h3v1h-3zM604 12h3v1h-3zM610 12h3v1h-3zM616 12h3v1h-3zM622 12h3v1h-3zM628 12h3v1h-3zM634 12h3v1h-3zM640 12h3v1h-3zM646 12h3v1h-3zM652 12h3v1h-3zM658 12h3v1h-3zM664 12h3v1h-3zM670 12h3v1h-3zM676 12h3v1h-3zM682 12h3v1h-3zM688 12h3v1h-3zM694 12h3v1h-3zM700 12h3v1h-3zM706 12h3v1h-3zM712 12h3v1h-3zM718 12h3v1h-3zM724 12h3v1h-3zM730 12h3v1h-3zM736 12h3v1h-3zM742 12h3v1h-3zM748 12h3v1h-3zM754 12h3v1h-3zM760 12h3v1h-3zM766 12h3v1h-3zM772 12h3v1h-3zM778 12h3v1h-3zM784 12h3v1h-3zM790 12h3v1h-3zM796 12h3v1h-3zM802 12h3v1h-3zM808 12h3v1h-3zM814 12h3v1h-3zM820 12h3v1h-3zM826 12h3v1h-3zM832 12h3v1h-3zM838 12h3v1h-3zM844 12h3v1h-3zM850 12h3v1h-3zM856 12h3v1h-3zM862 12h3v1h-3zM868 12h3v1h-3zM874 12h3v1h-3zM880 12h3v1h-3zM886 12h3v1h-3zM892 12h3v1h-3zM898 12h3v1h-3zM904 12h3v1h-3zM910 12h3v1h-3zM916 12h3v1h-3zM922 12h3v1h-3zM928 12h3v1h-3zM934 12h3v1h-3zM940 12h3v1h-3zM946 12h3v1h-3zM952 12h3v1h-3zM958 12h1v1h-1z"/>
<path fill="#c0c0c0" d="M4 61h3v1h-3zM10 61h3v1h-3zM16 61h3v1h-3zM22 61h3v1h-3zM28 61h3v1h-3zM34 61h3v1h-3zM40 61h3v1h-3zM46 61h3v1h-3zM52 61h3v1h-3zM58 61h3v1h-3zM64 61h3v1h-3zM70 61h3v1h-3zM76 61h3v1h-3zM82 61h3v1h-3zM88 61h3v1h-3zM94 61h3v1h-3zM100 61h3v1h-3zM106 61h3v1h-3zM112 61h3v1h-3zM118 61h3v1h-3zM124 61h3v1h-3zM130 61h3v1h-3zM136 61h3v1h-3zM142 61h3v1h-3zM148 61h3v1h-3zM154 61h3v1h-3zM160 61h3v1h-3zM166 61h3v1h-3zM172 61h3v1h-3zM178 61h3v1h-3zM184 61h3v1h-3zM190 61h3v1h-3zM196 61h3v1h-3zM202 61h3v1h-3zM208 61h3v1h-3zM214 61h3v1h-3zM220 61h3v1h-3zM226 61h3v1h-3zM232 61h3v1h-3zM238 61h3v1h-3zM244 61h3v1h-3zM250 61h3v1h-3zM256 61h3v1h-3zM262 61h3v1h-3zM268 61h3v1h-3zM274 61h3v1h-3zM280 61h3v1h-3zM286 61h3v1h-3zM292 61h3v1h-3zM298 61h3v1h-3zM304 61h3v1h-3zM310 61h3v1h-3zM316 61h3v1h-3zM322 61h3v1h-3zM328 61h3v1h-3zM334 61h3v1h-3zM340 61h3v1h-3zM346 61h3v1h-3zM352 61h3v1h-3zM358 61h3v1h-3zM364 61h3v1h-3zM370 61h3v1h-3zM376 61h3v1h-3zM382 61h3v1h-3zM388 61h3v1h-3zM394 61h3v1h-3zM400 61h3v1h-3zM406 61h3v1h-3zM412 61h3v1h-3zM418 61h3v1h-3zM424 61h3v1h-3zM430 61h3v1h-3zM436 61h3v1h-3zM442 61h3v1h-3zM448 61h3v1h-3zM454 61h3v1h-3zM460 61h3v1h-3zM466 61h3v1h-3zM472 61h3v1h-3zM478 61h3v1h-3zM484 61h3v1h-3zM490 61h3v1h-3zM496 61h3v1h-3zM502 61h3v1h-3zM508 61h3v1h-3zM514 61h3v1h-3zM520 61h3v1h-3zM526 61h3v1h-3zM532 61h3v1h-3zM538 61h3v1h-3zM544 61h3v1h-3zM550 61h3v1h-3zM556 61h3v1h-3zM562 61h3v1h-3zM568 61h3v1h-3zM574 61h3v1h-3zM580 61h3v1h-3zM586 61h3v1h-3zM592 61h3v1h-3zM598 61h3v1h-3zM604 61h3v1h-3zM610 61h3v1h-3zM616 61h3v1h-3zM622 61h3v1h-3zM628 61h3v1h-3zM634 61h3v1h-3zM640 61h3v1h-3zM646 61h3v1h-3zM652 61h3v1h-3zM658 61h3v1h-3zM664 61h3v1h-3zM670 61h3v1h-3zM676 61h3v1h-3zM682 61h3v1h-3zM688 61h3v1h-3zM694 61h3v1h-3zM700 61h3v1h-3zM706 61h3v1h-3zM712 61h3v1h-3zM718 61h3v1h-3zM724 61h3v1h-3zM730 61h3v1h-3zM736 61h3v1h-3zM742 61h3v1h-3zM748 61h3v1h-3zM754 61h3v1h-3zM760 61h3v1h-3zM766 61h3v1h-3zM772 61h3v1h-3zM778 61h3v1h-3zM784 61h3v1h-3zM790 61h3v1h-3zM796 61h3v1h-3zM802 61h3v1h-3zM808 61h3v1h-3zM814 61h3v1h-3zM820 61h3v1h-3zM826 61h3v1h-3zM832 61h3v1h-3zM838 61h3v1h-3zM844 61h3v1h-3zM850 61h3v1h-3zM856 61h3v1h-3zM862 61h3v1h-3zM868 61h3v1h-3zM874 61h3v1h-3zM880 61h3v1h-3zM886 61h3v1h-3zM892 61h3v1h-3zM898 61h3v1h-3zM904 61h3v1h-3zM910 61h3v1h-3zM916 61h3v1h-3zM922 61h3v1h-3zM928 61h3v1h-3zM934 61h3v1h-3zM940 61h3v1h-3zM946 61h3v1h-3zM952 61h3v1h-3zM958 61h1v1h-1z"/>
<path fill="#c0c0c0" d="M4 110h3v1h-3zM10 110h3v1h-3zM16 110h3v1h-3zM22 110h3v1h-3zM28 110h3v1h-3zM34 110h3v1h-3zM40 110h3v1h-3zM46 110h3v1h-3zM52 110h3v1h-3zM58 110h3v1h-3zM64 110h3v1h-3zM70 110h3v1h-3zM76 110h3v1h-3zM82 110h3v1h-3zM88 110h3v1h-3zM94 110h3v1h-3zM100 110h3v1h-3zM106 110h3v1h-3zM112 110h3v1h-3zM118 110h3v1h-3zM124 110h3v1h-3zM130 110h3v1h-3zM136 110h3v1h-3zM142 110h3v1h-3zM148 110h3v1h-3zM154 110h3v1h-3zM160 110h3v1h-3zM166 110h3v1h-3zM172 110h3v1h-3zM178 110h3v1h-3zM184 110h3v1h-3zM190 110h3v1h-3zM196 110h3v1h-3zM202 110h3v1h-3zM208 110h3v1h-3zM214 110h3v1h-3zM220 110h3v1h-3zM226 110h3v1h-3zM232 110h3v1h-3zM238 110h3v1h-3zM244 110h3v1h-3zM250 110h3v1h-3zM256 110h3v1h-3zM262 110h3v1h-3zM268 110h3v1h-3zM274 110h3v1h-3zM280 110h3v1h-3zM286 110h3v1h-3zM292 110h3v1h-3zM298 110h3v1h-3zM304 110h3v1h-3zM310 110h3v1h-3zM316 110h3v1h-3zM322 110h3v1h-3zM328 110h3v1h-3zM334 110h3v1h-3zM340 110h3v1h-3zM346 110h3v1h-3zM352 110h3v1h-3zM358 110h3v1h-3zM364 110h3v1h-3zM370 110h3v1h-3zM376 110h3v1h-3zM382 110h3v1h-3zM388 110h3v1h-3zM394 110h3v1h-3zM400 110h3v1h-3zM406 110h3v1h-3zM412 110h3v1h-3zM418 110h3v1h-3zM424 110h3v1h-3zM430 110h3v1h-3zM436 110h3v1h-3zM442 110h3v1h-3zM448 110h3v1h-3zM454 110h3v1h-3zM460 110h3v1h-3zM466 110h3v1h-3zM472 110h3v1h-3zM478 110h3v1h-3zM484 110h3v1h-3zM490 110h3v1h-3zM496 110h3v1h-3zM502 110h3v1h-3zM508 110h3v1h-3zM514 110h3v1h-3zM520 110h3v1h-3zM526 110h3v1h-3zM532 110h3v1h-3zM538 110h3v1h-3zM544 110h3v1h-3zM550 110h3v1h-3zM556 110h3v1h-3zM562 110h3v1h-3zM568 110h3v1h-3zM574 110h3v1h-3zM580 110h3v1h-3zM586 110h3v1h-3zM592 110h3v1h-3zM598 110h3v1h-3zM604 110h3v1h-3zM610 110h3v1h-3zM616 110h3v1h-3zM622 110h3v1h-3zM628 110h3v1h-3zM634 110h3v1h-3zM640 110h3v1h-3zM646 110h3v1h-3zM652 110h3v1h-3zM658 110h3v1h-3zM664 110h3v1h-3zM670 110h3v1h-3zM676 110h3v1h-3zM682 110h3v1h-3zM688 110h3v1h-3zM694 110h3v1h-3zM700 110h3v1h-3zM706 110h3v1h-3zM712 110h3v1h-3zM718 110h3v1h-3zM724 110h3v1h-3zM730 110h3v1h-3zM736 110h3v1h-3zM742 110h3v1h-3zM748 110h3v1h-3zM754 110h3v1h-3zM760 110h3v1h-3zM766 110h3v1h-3zM772 110h3v1h-3zM778 110h3v1h-3zM784 110h3v1h-3zM790 110h3v1h-3zM796 110h3v1h-3zM802 110h3v1h-3zM808 110h3v1h-3zM814 110h3v1h-3zM820 110h3v1h-3zM826 110h3v1h-3zM832 110h3v1h-3zM838 110h3v1h-3zM844 110h3v1h-3zM850 110h3v1h-3zM856 110h3v1h-3zM862 110h3v1h-3zM868 110h3v1h-3zM874 110h3v1h-3zM880 110h3v1h-3zM886 110h3v1h-3zM892 110h3v1h-3zM898 110h3v1h-3zM904 110h3v1h-3zM910 110h3v1h-3zM916 110h3v1h-3zM922 110h3v1h-3zM928 110h3v1h-3zM934 110h3v1h-3zM940 110h3v1h-3zM946 110h3v1h-3zM952 110h3v1h-3zM958 110h1v1h-1z"/>
<path fill="#c0c0c0" d="M4 159h3v1h-3zM10 159h3v1h-3zM16 159h3v1h-3zM22 159h3v1h-3zM28 159h3v1h-3zM34 159h3v1h-3zM40 159h3v1h-3zM46 159h3v1h-3zM52 159h3v1h-3zM58 159h3v1h-3zM64 159h3v1h-3zM70 159h3v1h-3zM76 159h3v1h-3zM82 159h3v1h-3zM88 159h3v1h-3zM94 159h3v1h-3zM100 159h3v1h-3zM106 159h3v1h-3zM112 159h3v1h-3zM118 159h3v1h-3zM124 159h3v1h-3zM130 159h3v1h-3zM136 159h3v1h-3zM142 159h3v1h-3zM148 159h3v1h-3zM154 159h3v1h-3zM160 159h3v1h-3zM166 159h3v1h-3zM172 159h3v1h-3zM178 159h3v1h-3zM184 159h3v1h-3zM190 159h3v1h-3zM196 159h3v1h-3zM202 159h3v1h-3zM208 159h3v1h-3zM214 159h3v1h-3zM220 159h3v1h-3zM226 159h3v1h-3zM232 159h3v1h-3zM238 159h3v1h-3zM244 159h3v1h-3zM250 159h3v1h-3zM256 159h3v1h-3zM262 159h3v1h-3zM268 159h3v1h-3zM274 159h3v1h-3zM280 159h3v1h-3zM286 159h3v1h-3zM292 159h3v1h-3zM298 159h3v1h-3zM304 159h3v1h-3zM310 159h3v1h-3zM316 159h3v1h-3zM322 159h3v1h-3zM328 159h3v1h-3zM334 159h3v1h-3zM340 159h3v1h-3zM346 159h3v1h-3zM352 159h3v1h-3zM358 159h3v1h-3zM364 159h3v1h-3zM370 159h3v1h-3zM376 159h3v1h-3zM382 159h3v1h-3zM388 159h3v1h-3zM394 159h3v1h-3zM400 159h3v1h-3zM406 159h3v1h-3zM412 159h3v1h-3zM418 159h3v1h-3zM424 159h3v1h-3zM430 159h3v1h-3zM436 159h3v1h-3zM442 159h3v1h-3zM448 159h3v1h-3zM454 159h3v1h-3zM460 159h3v1h-3zM466 159h3v1h-3zM472 159h3v1h-3zM478 159h3v1h-3zM484 159h3v1h-3zM490 159h3v1h-3zM496 159h3v1h-3zM502 159h3v1h-3zM508 159h3v1h-3zM514 159h3v1h-3zM520 159h3v1h-3zM526 159h3v1h-3zM532 159h3v1h-3zM538 159h3v1h-3zM544 159h3v1h-3zM550 159h3v1h-3zM556 159h3v1h-3zM562 159h3v1h-3zM568 159h3v1h-3zM574 159h3v1h-3zM580 159h3v1h-3zM586 159h3v1h-3zM592 159h3v1h-3zM598 159h3v1h-3zM604 159h3v1h-3zM610 159h3v1h-3zM616 159h3v1h-3zM622 159h3v1h-3zM628 159h3v1h-3zM634 159h3v1h-3zM640 159h3v1h-3zM646 159h3v1h-3zM652 159h3v1h-3zM658 159h3v1h-3zM664 159h3v1h-3zM670 159h3v1h-3zM676 159h3v1h-3zM682 159h3v1h-3zM688 159h3v1h-3zM694 159h3v1h-3zM700 159h3v1h-3zM706 159h3v1h-3zM712 159h3v1h-3zM718 159h3v1h-3zM724 159h3v1h-3zM730 159h3v1h-3zM736 159h3v1h-3zM742 159h3v1h-3zM748 159h3v1h-3zM754 159h3v1h-3zM760 159h3v1h-3zM766 159h3v1h-3zM772 159h3v1h-3zM778 159h3v1h-3zM784 159h3v1h-3zM790 159h3v1h-3zM796 159h3v1h-3zM802 159h3v1h-3zM808 159h3v1h-3zM814 159h3v1h-3zM820 159h3v1h-3zM826 159h3v1h-3zM832 159h3v1h-3zM838 159h3v1h-3zM844 159h3v1h-3zM850 159h3v1h-3zM856 159h3v1h-3zM862 159h3v1h-3zM868 159h3v1h-3zM874 159h3v1h-3zM880 159h3v1h-3zM886 159h3v1h-3zM892 159h3v1h-3zM898 159h3v1h-3zM904 159h3v1h-3zM910 159h3v1h-3zM916 159h3v1h-3zM922 159h3v1h-3zM928 159h3v1h-3zM934 159h3v1h-3zM940 159h3v1h-3zM946 159h3v1h-3zM952 159h3v1h-3zM958 159h1v1h-1z"/>
<path fill="#c0c0c0" d="M4 208h3v1h-3zM10 208h3v1h-3zM16 208h3v1h-3zM22 208h3v1h-3zM28 208h3v1h-3zM34 208h3v1h-3zM40 208h3v1h-3zM46 208h3v1h-3zM52 208h3v1h-3zM58 208h3v1h-3zM64 208h3v1h-3zM70 208h3v1h-3zM76 208h3v1h-3zM82 208h3v1h-3zM88 208h3v1h-3zM94 208h3v1h-3zM100 208h3v1h-3zM106 208h3v1h-3zM112 208h3v1h-3zM118 208h3v1h-3zM124 208h3v1h-3zM130 208h3v1h-3zM136 208h3v1h-3zM142 208h3v1h-3zM148 208h3v1h-3zM154 208h3v1h-3zM160 208h3v1h-3zM166 208h3v1h-3zM172 208h3v1h-3zM178 208h3v1h-3zM184 208h3v1h-3zM190 208h3v1h-3zM196 208h3v1h-3zM202 208h3v1h-3zM208 208h3v1h-3zM214 208h3v1h-3zM220 208h3v1h-3zM226 208h3v1h-3zM232 208h3v1h-3zM238 208h3v1h-3zM244 208h3v1h-3zM250 208h3v1h-3zM256 208h3v1h-3zM262 208h3v1h-3zM268 208h3v1h-3zM274 208h3v1h-3zM280 208h3v1h-3zM286 208h3v1h-3zM292 208h3v1h-3zM298 208h3v1h-3zM304 208h3v1h-3zM310 208h3v1h-3zM316 208h3v1h-3zM322 208h3v1h-3zM328 208h3v1h-3zM334 208h3v1h-3zM340 208h3v1h-3zM346 208h3v1h-3zM352 208h3v1h-3zM358 208h3v1h-3zM364 208h3v1h-3zM370 208h3v1h-3zM376 208h3v1h-3zM382 208h3v1h-3zM388 208h3v1h-3zM394 208h3v1h-3zM400 208h3v1h-3zM406 208h3v1h-3zM412 208h3v1h-3zM418 208h3v1h-3zM424 208h3v1h-3zM430 208h3v1h-3zM436 208h3v1h-3zM442 208h3v1h-3zM448 208h3v1h-3zM454 208h3v1h-3zM460 208h3v1h-3zM466 208h3v1h-3zM472 208h3v1h-3zM478 208h3v1h-3zM484 208h3v1h-3zM490 208h3v1h-3zM496 208h3v1h-3zM502 208h3v1h-3zM508 208h3v1h-3zM514 208h3v1h-3zM520 208h3v1h-3zM526 208h3v1h-3zM532 208h3v1h-3zM538 208h3v1h-3zM544 208h3v1h-3zM550 208h3v1h-3zM556 208h3v1h-3zM562 208h3v1h-3zM568 208h3v1h-3zM574 208h3v1h-3zM580 208h3v1h-3zM586 208h3v1h-3zM592 208h3v1h-3zM598 208h3v1h-3zM604 208h3v1h-3zM610 208h3v1h-3zM616 208h3v1h-3zM622 208h3v1h-3zM628 208h3v1h-3zM634 208h3v1h-3zM640 208h3v1h-3zM646 208h3v1h-3zM652 208h3v1h-3zM658 208h3v1h-3zM664 208h3v1h-3zM670 208h3v1h-3zM676 208h3v1h-3zM682 208h3v1h-3zM688 208h3v1h-3zM694 208h3v1h-3zM700 208h3v1h-3zM706 208h3v1h-3zM712 208h3v1h-3zM718 208h3v1h-3zM724 208h3v1h-3zM730 208h3v1h-3zM736 208h3v1h-3zM742 208h3v1h-3zM748 208h3v1h-3zM754 208h3v1h-3zM760 208h3v1h-3zM766 208h3v1h-3zM772 208h3v1h-3zM778 208h3v1h-3zM784 208h3v1h-3zM790 208h3v1h-3zM796 208h3v1h-3zM802 208h3v1h-3zM808 208h3v1h-3zM814 208h3v1h-3zM820 208h3v1h-3zM826 208h3v1h-3zM832 208h3v1h-3zM838 208h3v1h-3zM844 208h3v1h-3zM850 208h3v1h-3zM856 208h3v1h-3zM862 208h3v1h-3zM868 208h3v1h-3zM874 208h3v1h-3zM880 208h3v1h-3zM886 208h3v1h-3zM892 208h3v1h-3zM898 208h3v1h-3zM904 208h3v1h-3zM910 208h3v1h-3zM916 208h3v1h-3zM922 208h3v1h-3zM928 208h3v1h-3zM934 208h3v1h-3zM940 208h3v1h-3zM946 208h3v1h-3zM952 208h3v1h-3zM958 208h1v1h-1z"/>
<path fill="#c0c0c0" d="M4 257h3v1h-3zM10 257h3v1h-3zM16 257h3v1h-3zM22 257h3v1h-3zM28 257h3v1h-3zM34 257h3v1h-3zM40 257h3v1h-3zM46 257h3v1h-3zM52 257h3v1h-3zM58 257h3v1h-3zM64 257h3v1h-3zM70 257h3v1h-3zM76 257h3v1h-3zM82 257h3v1h-3zM88 257h3v1h-3zM94 257h3v1h-3zM100 257h3v1h-3zM106 257h3v1h-3zM112 257h3v1h-3zM118 257h3v1h-3zM124 257h3v1h-3zM130 257h3v1h-3zM136 257h3v1h-3zM142 257h3v1h-3zM148 257h3v1h-3zM154 257h3v1h-3zM160 257h3v1h-3zM166 257h3v1h-3zM172 257h3v1h-3zM178 257h3v1h-3zM184 257h3v1h-3zM190 257h3v1h-3zM196 257h3v1h-3zM202 257h3v1h-3zM208 257h3v1h-3zM214 257h3v1h-3zM220 257h3v1h-3zM226 257h3v1h-3zM232 257h3v1h-3zM238 257h3v1h-3zM244 257h3v1h-3zM250 257h3v1h-3zM256 257h3v1h-3zM262 257h3v1h-3zM268 257h3v1h-3zM274 257h3v1h-3zM280 257h3v1h-3zM286 257h3v1h-3zM292 257h3v1h-3zM298 257h3v1h-3zM304 257h3v1h-3zM310 257h3v1h-3zM316 257h3v1h-3zM322 257h3v1h-3zM328 257h3v1h-3zM334 257h3v1h-3zM340 257h3v1h-3zM346 257h3v1h-3zM352 257h3v1h-3zM358 257h3v1h-3zM364 257h3v1h-3zM370 257h3v1h-3zM376 257h3v1h-3zM382 257h3v1h-3zM388 257h3v1h-3zM394 257h3v1h-3zM400 257h3v1h-3zM406 257h3v1h-3zM412 257h3v1h-3zM418 257h3v1h-3zM424 257h3v1h-3zM430 257h3v1h-3zM436 257h3v1h-3zM442 257h3v1h-3zM448 257h3v1h-3zM454 257h3v1h-3zM460 257h3v1h-3zM466 257h3v1h-3zM472 257h3v1h-3zM478 257h3v1h-3zM484 257h3v1h-3zM490 257h3v1h-3zM496 257h3v1h-3zM502 257h3v1h-3zM508 257h3v1h-3zM514 257h3v1h-3zM520 257h3v1h-3zM526 257h3v1h-3zM532 257h3v1h-3zM538 257h3v1h-3zM544 257h3v1h-3zM550 257h3v1h-3zM556 257h3v1h-3zM562 257h3v1h-3zM568 257h3v1h-3zM574 257h3v1h-3zM580 257h3v1h-3zM586 257h3v1h-3zM592 257h3v1h-3zM598 257h3v1h-3zM604 257h3v1h-3zM610 257h3v1h-3zM616 257h3v1h-3zM622 257h3v1h-3zM628 257h3v1h-3zM634 257h3v1h-3zM640 257h3v1h-3zM646 257h3v1h-3zM652 257h3v1h-3zM658 257h3v1h-3zM664 257h3v1h-3zM670 257h3v1h-3zM676 257h3v1h-3zM682 257h3v1h-3zM688 257h3v1h-3zM694 257h3v1h-3zM700 257h3v1h-3zM706 257h3v1h-3zM712 257h3v1h-3zM718 257h3v1h-3zM724 257h3v1h-3zM730 257h3v1h-3zM736 257h3v1h-3zM742 257h3v1h-3zM748 257h3v1h-3zM754 257h3v1h-3zM760 257h3v1h-3zM766 257h3v1h-3zM772 257h3v1h-3zM778 257h3v1h-3zM784 257h3v1h-3zM790 257h3v1h-3zM796 257h3v1h-3zM802 257h3v1h-3zM808 257h3v1h-3zM814 257h3v1h-3zM820 257h3v1h-3zM826 257h3v1h-3zM832 257h3v1h-3zM838 257h3v1h-3zM844 257h3v1h-3zM850 257h3v1h-3zM856 257h3v1h-3zM862 257h3v1h-3zM868 257h3v1h-3zM874 257h3v1h-3zM880 257h3v1h-3zM886 257h3v1h-3zM892 257h3v1h-3zM898 257h3v1h-3zM904 257h3v1h-3zM910 257h3v1h-3zM916 257h3v1h-3zM922 257h3v1h-3zM928 257h3v1h-3zM934 257h3v1h-3zM940 257h3v1h-3zM946 257h3v1h-3zM952 257h3v1h-3zM958 257h1v1h-1z"/>
<path fill="#c0c0c0" d="M4 306h3v1h-3zM10 306h3v1h-3zM16 306h3v1h-3zM22 306h3v1h-3zM28 306h3v1h-3zM34 306h3v1h-3zM40 306h3v1h-3zM46 306h3v1h-3zM52 306h3v1h-3zM58 306h3v1h-3zM64 306h3v1h-3zM70 306h3v1h-3zM76 306h3v1h-3zM82 306h3v1h-3zM88 306h3v1h-3zM94 306h3v1h-3zM100 306h3v1h-3zM106 306h3v1h-3zM112 306h3v1h-3zM118 306h3v1h-3zM124 306h3v1h-3zM130 306h3v1h-3zM136 306h3v1h-3zM142 306h3v1h-3zM148 306h3v1h-3zM154 306h3v1h-3zM160 306h3v1h-3zM166 306h3v1h-3zM172 306h3v1h-3zM178 306h3v1h-3zM184 306h3v1h-3zM190 306h3v1h-3zM196 306h3v1h-3zM202 306h3v1h-3zM208 306h3v1h-3zM214 306h3v1h-3zM220 306h3v1h-3zM226 306h3v1h-3zM232 306h3v1h-3zM238 306h3v1h-3zM244 306h3v1h-3zM250 306h3v1h-3zM256 306h3v1h-3zM262 306h3v1h-3zM268 306h3v1h-3zM274 306h3v1h-3zM280 306h3v1h-3zM286 306h3v1h-3zM292 306h3v1h-3zM298 306h3v1h-3zM304 306h3v1h-3zM310 306h3v1h-3zM316 306h3v1h-3zM322 306h3v1h-3zM328 306h3v1h-3zM334 306h3v1h-3zM340 306h3v1h-3zM346 306h3v1h-3zM352 306h3v1h-3zM358 306h3v1h-3zM364 306h3v1h-3zM370 306h3v1h-3zM376 306h3v1h-3zM382 306h3v1h-3zM388 306h3v1h-3zM394 306h3v1h-3zM400 306h3v1h-3zM406 306h3v1h-3zM412 306h3v1h-3zM418 306h3v1h-3zM424 306h3v1h-3zM430 306h3v1h-3zM436 306h3v1h-3zM442 306h3v1h-3zM448 306h3v1h-3zM454 306h3v1h-3zM460 306h3v1h-3zM466 306h3v1h-3zM472 306h3v1h-3zM478 306h3v1h-3zM484 306h3v1h-3zM490 306h3v1h-3zM496 306h3v1h-3zM502 306h3v1h-3zM508 306h3v1h-3zM514 306h3v1h-3zM520 306h3v1h-3zM526 306h3v1h-3zM532 306h3v1h-3zM538 306h3v1h-3zM544 306h3v1h-3zM550 306h3v1h-3zM556 306h3v1h-3zM562 306h3v1h-3zM568 306h3v1h-3zM574 306h3v1h-3zM580 306h3v1h-3zM586 306h3v1h-3zM592 306h3v1h-3zM598 306h3v1h-3zM604 306h3v1h-3zM610 306h3v1h-3zM616 306h3v1h-3zM622 306h3v1h-3zM628 306h3v1h-3zM634 306h3v1h-3zM640 306h3v1h-3zM646 306h3v1h-3zM652 306h3v1h-3zM658 306h3v1h-3zM664 306h3v1h-3zM670 306h3v1h-3zM676 306h3v1h-3zM682 306h3v1h-3zM688 306h3v1h-3zM694 306h3v1h-3zM700 306h3v1h-3zM706 306h3v1h-3zM712 306h3v1h-3zM718 306h3v1h-3zM724 306h3v1h-3zM730 306h3v1h-3zM736 306h3v1h-3zM742 306h3v1h-3zM748 306h3v1h-3zM754 306h3v1h-3zM760 306h3v1h-3zM766 306h3v1h-3zM772 306h3v1h-3zM778 306h3v1h-3zM784 306h3v1h-3zM790 306h3v1h-3zM796 306h3v1h-3zM802 306h3v1h-3zM808 306h3v1h-3zM814 306h3v1h-3zM820 306h3v1h-3zM826 306h3v1h-3zM832 306h3v1h-3zM838 306h3v1h-3zM844 306h3v1h-3zM850 306h3v1h-3zM856 306h3v1h-3zM862 306h3v1h-3zM868 306h3v1h-3zM874 306h3v1h-3zM880 306h3v1h-3zM886 306h3v1h-3zM892 306h3v1h-3zM898 306h3v1h-3zM904 306h3v1h-3zM910 306h3v1h-3zM916 306h3v1h-3zM922 306h3v1h-3zM928 306h3v1h-3zM934 306h3v1h-3zM940 306h3v1h-3zM946 306h3v1h-3zM952 306h3v1h-3zM958 306h1v1h-1z"/>
<path fill="#c0c0c0" d="M4 355h3v1h-3zM10 355h3v1h-3zM16 355h3v1h-3zM22 355h3v1h-3zM28 355h3v1h-3zM34 355h3v1h-3zM40 355h3v1h-3zM46 355h3v1h-3zM52 355h3v1h-3zM58 355h3v1h-3zM64 355h3v1h-3zM70 355h3v1h-3zM76 355h3v1h-3zM82 355h3v1h-3zM88 355h3v1h-3zM94 355h3v1h-3zM100 355h3v1h-3zM106 355h3v1h-3zM112 355h3v1h-3zM118 355h3v1h-3zM124 355h3v1h-3zM130 355h3v1h-3zM136 355h3v1h-3zM142 355h3v1h-3zM148 355h3v1h-3zM154 355h3v1h-3zM160 355h3v1h-3zM166 355h3v1h-3zM172 355h3v1h-3zM178 355h3v1h-3zM184 355h3v1h-3zM190 355h3v1h-3zM196 355h3v1h-3zM202 355h3v1h-3zM208 355h3v1h-3zM214 355h3v1h-3zM220 355h3v1h-3zM226 355h3v1h-3zM232 355h3v1h-3zM238 355h3v1h-3zM244 355h3v1h-3zM250 355h3v1h-3zM256 355h3v1h-3zM262 355h3v1h-3zM268 355h3v1h-3zM274 355h3v1h-3zM280 355h3v1h-3zM286 355h3v1h-3zM292 355h3v1h-3zM298 355h3v1h-3zM304 355h3v1h-3zM310 355h3v1h-3zM316 355h3v1h-3zM322 355h3v1h-3zM328 355h3v1h-3zM334 355h3v1h-3zM340 355h3v1h-3zM346 355h3v1h-3zM352 355h3v1h-3zM358 355h3v1h-3zM364 355h3v1h-3zM370 355h3v1h-3zM376 355h3v1h-3zM382 355h3v1h-3zM388 355h3v1h-3zM394 355h3v1h-3zM400 355h3v1h-3zM406 355h3v1h-3zM412 355h3v1h-3zM418 355h3v1h-3zM424 355h3v1h-3zM430 355h3v1h-3zM436 355h3v1h-3zM442 355h3v1h-3zM448 355h3v1h-3zM454 355h3v1h-3zM460 355h3v1h-3zM466 355h3v1h-3zM472 355h3v1h-3zM478 355h3v1h-3zM484 355h3v1h-3zM490 355h3v1h-3zM496 355h3v1h-3zM502 355h3v1h-3zM508 355h3v1h-3zM514 355h3v1h-3zM520 355h3v1h-3zM526 355h3v1h-3zM532 355h3v1h-3zM538 355h3v1h-3zM544 355h3v1h-3zM550 355h3v1h-3zM556 355h3v1h-3zM562 355h3v1h-3zM568 355h3v1h-3zM574 355h3v1h-3zM580 355h3v1h-3zM586 355h3v1h-3zM592 355h3v1h-3zM598 355h3v1h-3zM604 355h3v1h-3zM610 355h3v1h-3zM616 355h3v1h-3zM622 355h3v1h-3zM628 355h3v1h-3zM634 355h3v1h-3zM640 355h3v1h-3zM646 355h3v1h-3zM652 355h3v1h-3zM658 355h3v1h-3zM664 355h3v1h-3zM670 355h3v1h-3zM676 355h3v1h-3zM682 355h3v1h-3zM688 355h3v1h-3zM694 355h3v1h-3zM700 355h3v1h-3zM706 355h3v1h-3zM712 355h3v1h-3zM718 355h3v1h-3zM724 355h3v1h-3zM730 355h3v1h-3zM736 355h3v1h-3zM742 355h3v1h-3zM748 355h3v1h-3zM754 355h3v1h-3zM760 355h3v1h-3zM766 355h3v1h-3zM772 355h3v1h-3zM778 355h3v1h-3zM784 355h3v1h-3zM790 355h3v1h-3zM796 355h3v1h-3zM802 355h3v1h-3zM808 355h3v1h-3zM814 355h3v1h-3zM820 355h3v1h-3zM826 355h3v1h-3zM832 355h3v1h-3zM838 355h3v1h-3zM844 355h3v1h-3zM850 355h3v1h-3zM856 355h3v1h-3zM862 355h3v1h-3zM868 355h3v1h-3zM874 355h3v1h-3zM880 355h3v1h-3zM886 355h3v1h-3zM892 355h3v1h-3zM898 355h3v1h-3zM904 355h3v1h-3zM910 355h3v1h-3zM916 355h3v1h-3zM922 355h3v1h-3zM928 355h3v1h-3zM934 355h3v1h-3zM940 355h3v1h-3zM946 355h3v1h-3zM952 355h3v1h-3zM958 355h1v1h-1z"/>
<path fill="#c0c0c0" d="M4 404h3v1h-3zM10 404h3v1h-3zM16 404h3v1h-3zM22 404h3v1h-3zM28 404h3v1h-3zM34 404h3v1h-3zM40 404h3v1h-3zM46 404h3v1h-3zM52 404h3v1h-3zM58 404h3v1h-3zM64 404h3v1h-3zM70 404h3v1h-3zM76 404h3v1h-3zM82 404h3v1h-3zM88 404h3v1h-3zM94 404h3v1h-3zM100 404h3v1h-3zM106 404h3v1h-3zM112 404h3v1h-3zM118 404h3v1h-3zM124 404h3v1h-3zM130 404h3v1h-3zM136 404h3v1h-3zM142 404h3v1h-3zM148 404h3v1h-3zM154 404h3v1h-3zM160 404h3v1h-3zM166 404h3v1h-3zM172 404h3v1h-3zM178 404h3v1h-3zM184 404h3v1h-3zM190 404h3v1h-3zM196 404h3v1h-3zM202 404h3v1h-3zM208 404h3v1h-3zM214 404h3v1h-3zM220 404h3v1h-3zM226 404h3v1h-3zM232 404h3v1h-3zM238 404h3v1h-3zM244 404h3v1h-3zM250 404h3v1h-3zM256 404h3v1h-3zM262 404h3v1h-3zM268 404h3v1h-3zM274 404h3v1h-3zM280 404h3v1h-3zM286 404h3v1h-3zM292 404h3v1h-3zM298 404h3v1h-3zM304 404h3v1h-3zM310 404h3v1h-3zM316 404h3v1h-3zM322 404h3v1h-3zM328 404h3v1h-3zM334 404h3v1h-3zM340 404h3v1h-3zM346 404h3v1h-3zM352 404h3v1h-3zM358 404h3v1h-3zM364 404h3v1h-3zM370 404h3v1h-3zM376 404h3v1h-3zM382 404h3v1h-3zM388 404h3v1h-3zM394 404h3v1h-3zM400 404h3v1h-3zM406 404h3v1h-3zM412 404h3v1h-3zM418 404h3v1h-3zM424 404h3v1h-3zM430 404h3v1h-3zM436 404h3v1h-3zM442 404h3v1h-3zM448 404h3v1h-3zM454 404h3v1h-3zM460 404h3v1h-3zM466 404h3v1h-3zM472 404h3v1h-3zM478 404h3v1h-3zM484 404h3v1h-3zM490 404h3v1h-3zM496 404h3v1h-3zM502 404h3v1h-3zM508 404h3v1h-3zM514 404h3v1h-3zM520 404h3v1h-3zM526 404h3v1h-3zM532 404h3v1h-3zM538 404h3v1h-3zM544 404h3v1h-3zM550 404h3v1h-3zM556 404h3v1h-3zM562 404h3v1h-3zM568 404h3v1h-3zM574 404h3v1h-3zM580 404h3v1h-3zM586 404h3v1h-3zM592 404h3v1h-3zM598 404h3v1h-3zM604 404h3v1h-3zM610 404h3v1h-3zM616 404h3v1h-3zM622 404h3v1h-3zM628 404h3v1h-3zM634 404h3v1h-3zM640 404h3v1h-3zM646 404h3v1h-3zM652 404h3v1h-3zM658 404h3v1h-3zM664 404h3v1h-3zM670 404h3v1h-3zM676 404h3v1h-3zM682 404h3v1h-3zM688 404h3v1h-3zM694 404h3v1h-3zM700 404h3v1h-3zM706 404h3v1h-3zM712 404h3v1h-3zM718 404h3v1h-3zM724 404h3v1h-3zM730 404h3v1h-3zM736 404h3v1h-3zM742 404h3v1h-3zM748 404h3v1h-3zM754 404h3v1h-3zM760 404h3v1h-3zM766 404h3v1h-3zM772 404h3v1h-3zM778 404h3v1h-3zM784 404h3v1h-3zM790 404h3v1h-3zM796 404h3v1h-3zM802 404h3v1h-3zM808 404h3v1h-3zM814 404h3v1h-3zM820 404h3v1h-3zM826 404h3v1h-3zM832 404h3v1h-3zM838 404h3v1h-3zM844 404h3v1h-3zM850 404h3v1h-3zM856 404h3v1h-3zM862 404h3v1h-3zM868 404h3v1h-3zM874 404h3v1h-3zM880 404h3v1h-3zM886 404h3v1h-3zM892 404h3v1h-3zM898 404h3v1h-3zM904 404h3v1h-3zM910 404h3v1h-3zM916 404h3v1h-3zM922 404h3v1h-3zM928 404h3v1h-3zM934 404h3v1h-3zM940 404h3v1h-3zM946 404h3v1h-3zM952 404h3v1h-3zM958 404h1v1h-1z"/>
<path fill="#c0c0c0" d="M4 443h3v1h-3zM10 443h3v1h-3zM16 443h3v1h-3zM22 443h3v1h-3zM28 443h3v1h-3zM34 443h3v1h-3zM40 443h3v1h-3zM46 443h3v1h-3zM52 443h3v1h-3zM58 443h3v1h-3zM64 443h3v1h-3zM70 443h3v1h-3zM76 443h3v1h-3zM82 443h3v1h-3zM88 443h3v1h-3zM94 443h3v1h-3zM100 443h3v1h-3zM106 443h3v1h-3zM112 443h3v1h-3zM118 443h3v1h-3zM124 443h3v1h-3zM130 443h3v1h-3zM136 443h3v1h-3zM142 443h3v1h-3zM148 443h3v1h-3zM154 443h3v1h-3zM160 443h3v1h-3zM166 443h3v1h-3zM172 443h3v1h-3zM178 443h3v1h-3zM184 443h3v1h-3zM190 443h3v1h-3zM196 443h3v1h-3zM202 443h3v1h-3zM208 443h3v1h-3zM214 443h3v1h-3zM220 443h3v1h-3zM226 443h3v1h-3zM232 443h3v1h-3zM238 443h3v1h-3zM244 443h3v1h-3zM250 443h3v1h-3zM256 443h3v1h-3zM262 443h3v1h-3zM268 443h3v1h-3zM274 443h3v1h-3zM280 443h3v1h-3zM286 443h3v1h-3zM292 443h3v1h-3zM298 443h3v1h-3zM304 443h3v1h-3zM310 443h3v1h-3zM316 443h3v1h-3zM322 443h3v1h-3zM328 443h3v1h-3zM334 443h3v1h-3zM340 443h3v1h-3zM346 443h3v1h-3zM352 443h3v1h-3zM358 443h3v1h-3zM364 443h3v1h-3zM370 443h3v1h-3zM376 443h3v1h-3zM382 443h3v1h-3zM388 443h3v1h-3zM394 443h3v1h-3zM400 443h3v1h-3zM406 443h3v1h-3zM412 443h3v1h-3zM418 443h3v1h-3zM424 443h3v1h-3zM430 443h3v1h-3zM436 443h3v1h-3zM442 443h3v1h-3zM448 443h3v1h-3zM454 443h3v1h-3zM460 443h3v1h-3zM466 443h3v1h-3zM472 443h3v1h-3zM478 443h3v1h-3zM484 443h3v1h-3zM490 443h3v1h-3zM496 443h3v1h-3zM502 443h3v1h-3zM508 443h3v1h-3zM514 443h3v1h-3zM520 443h3v1h-3zM526 443h3v1h-3zM532 443h3v1h-3zM538 443h3v1h-3zM544 443h3v1h-3zM550 443h3v1h-3zM556 443h3v1h-3zM562 443h3v1h-3zM568 443h3v1h-3zM574 443h3v1h-3zM580 443h3v1h-3zM586 443h3v1h-3zM592 443h3v1h-3zM598 443h3v1h-3zM604 443h3v1h-3zM610 443h3v1h-3zM616 443h3v1h-3zM622 443h3v1h-3zM628 443h3v1h-3zM634 443h3v1h-3zM640 443h3v1h-3zM646 443h3v1h-3zM652 443h3v1h-3zM658 443h3v1h-3zM664 443h3v1h-3zM670 443h3v1h-3zM676 443h3v1h-3zM682 443h3v1h-3zM688 443h3v1h-3zM694 443h3v1h-3zM700 443h3v1h-3zM706 443h3v1h-3zM712 443h3v1h-3zM718 443h3v1h-3zM724 443h3v1h-3zM730 443h3v1h-3zM736 443h3v1h-3zM742 443h3v1h-3zM748 443h3v1h-3zM754 443h3v1h-3zM760 443h3v1h-3zM766 443h3v1h-3zM772 443h3v1h-3zM778 443h3v1h-3zM784 443h3v1h-3zM790 443h3v1h-3zM796 443h3v1h-3zM802 443h3v1h-3zM808 443h3v1h-3zM814 443h3v1h-3zM820 443h3v1h-3zM826 443h3v1h-3zM832 443h3v1h-3zM838 443h3v1h-3zM844 443h3v1h-3zM850 443h3v1h-3zM856 443h3v1h-3zM862 443h3v1h-3zM868 443h3v1h-3zM874 443h3v1h-3zM880 443h3v1h-3zM886 443h3v1h-3zM892 443h3v1h-3zM898 443h3v1h-3zM904 443h3v1h-3zM910 443h3v1h-3zM916 443h3v1h-3zM922 443h3v1h-3zM928 443h3v1h-3zM934 443h3v1h-3zM940 443h3v1h-3zM946 443h3v1h-3zM952 443h3v1h-3zM958 443h1v1h-1z"/>
<path fill="#c0c0c0" d="M4 466h3v1h-3zM10 466h3v1h-3zM16 466h3v1h-3zM22 466h3v1h-3zM28 466h3v1h-3zM34 466h3v1h-3zM40 466h3v1h-3zM46 466h3v1h-3zM52 466h3v1h-3zM58 466h3v1h-3zM64 466h3v1h-3zM70 466h3v1h-3zM76 466h3v1h-3zM82 466h3v1h-3zM88 466h3v1h-3zM94 466h3v1h-3zM100 466h3v1h-3zM106 466h3v1h-3zM112 466h3v1h-3zM118 466h3v1h-3zM124 466h3v1h-3zM130 466h3v1h-3zM136 466h3v1h-3zM142 466h3v1h-3zM148 466h3v1h-3zM154 466h3v1h-3zM160 466h3v1h-3zM166 466h3v1h-3zM172 466h3v1h-3zM178 466h3v1h-3zM184 466h3v1h-3zM190 466h3v1h-3zM196 466h3v1h-3zM202 466h3v1h-3zM208 466h3v1h-3zM214 466h3v1h-3zM220 466h3v1h-3zM226 466h3v1h-3zM232 466h3v1h-3zM238 466h3v1h-3zM244 466h3v1h-3zM250 466h3v1h-3zM256 466h3v1h-3zM262 466h3v1h-3zM268 466h3v1h-3zM274 466h3v1h-3zM280 466h3v1h-3zM286 466h3v1h-3zM292 466h3v1h-3zM298 466h3v1h-3zM304 466h3v1h-3zM310 466h3v1h-3zM316 466h3v1h-3zM322 466h3v1h-3zM328 466h3v1h-3zM334 466h3v1h-3zM340 466h3v1h-3zM346 466h3v1h-3zM352 466h3v1h-3zM358 466h3v1h-3zM364 466h3v1h-3zM370 466h3v1h-3zM376 466h3v1h-3zM382 466h3v1h-3zM388 466h3v1h-3zM394 466h3v1h-3zM400 466h3v1h-3zM406 466h3v1h-3zM412 466h3v1h-3zM418 466h3v1h-3zM424 466h3v1h-3zM430 466h3v1h-3zM436 466h3v1h-3zM442 466h3v1h-3zM448 466h3v1h-3zM454 466h3v1h-3zM460 466h3v1h-3zM466 466h3v1h-3zM472 466h3v1h-3zM478 466h3v1h-3zM484 466h3v1h-3zM490 466h3v1h-3zM496 466h3v1h-3zM502 466h3v1h-3zM508 466h3v1h-3zM514 466h3v1h-3zM520 466h3v1h-3zM526 466h3v1h-3zM532 466h3v1h-3zM538 466h3v1h-3zM544 466h3v1h-3zM550 466h3v1h-3zM556 466h3v1h-3zM562 466h3v1h-3zM568 466h3v1h-3zM574 466h3v1h-3zM580 466h3v1h-3zM586 466h3v1h-3zM592 466h3v1h-3zM598 466h3v1h-3zM604 466h3v1h-3zM610 466h3v1h-3zM616 466h3v1h-3zM622 466h3v1h-3zM628 466h3v1h-3zM634 466h3v1h-3zM640 466h3v1h-3zM646 466h3v1h-3zM652 466h3v1h-3zM658 466h3v1h-3zM664 466h3v1h-3zM670 466h3v1h-3zM676 466h3v1h-3zM682 466h3v1h-3zM688 466h3v1h-3zM694 466h3v1h-3zM700 466h3v1h-3zM706 466h3v1h-3zM712 466h3v1h-3zM718 466h3v1h-3zM724 466h3v1h-3zM730 466h3v1h-3zM736 466h3v1h-3zM742 466h3v1h-3zM748 466h3v1h-3zM754 466h3v1h-3zM760 466h3v1h-3zM766 466h3v1h-3zM772 466h3v1h-3zM778 466h3v1h-3zM784 466h3v1h-3zM790 466h3v1h-3zM796 466h3v1h-3zM802 466h3v1h-3zM808 466h3v1h-3zM814 466h3v1h-3zM820 466h3v1h-3zM826 466h3v1h-3zM832 466h3v1h-3zM838 466h3v1h-3zM844 466h3v1h-3zM850 466h3v1h-3zM856 466h3v1h-3zM862 466h3v1h-3zM868 466h3v1h-3zM874 466h3v1h-3zM880 466h3v1h-3zM886 466h3v1h-3zM892 466h3v1h-3zM898 466h3v1h-3zM904 466h3v1h-3zM910 466h3v1h-3zM916 466h3v1h-3zM922 466h3v1h-3zM928 466h3v1h-3zM934 466h3v1h-3zM940 466h3v1h-3zM946 466h3v1h-3zM952 466h3v1h-3zM958 466h1v1h-1z"/>
<path fill="#c0c0c0" d="M4 482h3v1h-3zM10 482h3v1h-3zM16 482h3v1h-3zM22 482h3v1h-3zM28 482h3v1h-3zM34 482h3v1h-3zM40 482h3v1h-3zM46 482h3v1h-3zM52 482h3v1h-3zM58 482h3v1h-3zM64 482h3v1h-3zM70 482h3v1h-3zM76 482h3v1h-3zM82 482h3v1h-3zM88 482h3v1h-3zM94 482h3v1h-3zM100 482h3v1h-3zM106 482h3v1h-3zM112 482h3v1h-3zM118 482h3v1h-3zM124 482h3v1h-3zM130 482h3v1h-3zM136 482h3v1h-3zM142 482h3v1h-3zM148 482h3v1h-3zM154 482h3v1h-3zM160 482h3v1h-3zM166 482h3v1h-3zM172 482h3v1h-3zM178 482h3v1h-3zM184 482h3v1h-3zM190 482h3v1h-3zM196 482h3v1h-3zM202 482h3v1h-3zM208 482h3v1h-3zM214 482h3v1h-3zM220 482h3v1h-3zM226 482h3v1h-3zM232 482h3v1h-3zM238 482h3v1h-3zM244 482h3v1h-3zM250 482h3v1h-3zM256 482h3v1h-3zM262 482h3v1h-3zM268 482h3v1h-3zM274 482h3v1h-3zM280 482h3v1h-3zM286 482h3v1h-3zM292 482h3v1h-3zM298 482h3v1h-3zM304 482h3v1h-3zM310 482h3v1h-3zM316 482h3v1h-3zM322 482h3v1h-3zM328 482h3v1h-3zM334 482h3v1h-3zM340 482h3v1h-3zM346 482h3v1h-3zM352 482h3v1h-3zM358 482h3v1h-3zM364 482h3v1h-3zM370 482h3v1h-3zM376 482h3v1h-3zM382 482h3v1h-3zM388 482h3v1h-3zM394 482h3v1h-3zM400 482h3v1h-3zM406 482h3v1h-3zM412 482h3v1h-3zM418 482h3v1h-3zM424 482h3v1h-3zM430 482h3v1h-3zM436 482h3v1h-3zM442 482h3v1h-3zM448 482h3v1h-3zM454 482h3v1h-3zM460 482h3v1h-3zM466 482h3v1h-3zM472 482h3v1h-3zM478 482h3v1h-3zM484 482h3v1h-3zM490 482h3v1h-3zM496 482h3v1h-3zM502 482h3v1h-3zM508 482h3v1h-3zM514 482h3v1h-3zM520 482h3v1h-3zM526 482h3v1h-3zM532 482h3v1h-3zM538 482h3v1h-3zM544 482h3v1h-3zM550 482h3v1h-3zM556 482h3v1h-3zM562 482h3v1h-3zM568 482h3v1h-3zM574 482h3v1h-3zM580 482h3v1h-3zM586 482h3v1h-3zM592 482h3v1h-3zM598 482h3v1h-3zM604 482h3v1h-3zM610 482h3v1h-3zM616 482h3v1h-3zM622 482h3v1h-3zM628 482h3v1h-3zM634 482h3v1h-3zM640 482h3v1h-3zM646 482h3v1h-3zM652 482h3v1h-3zM658 482h3v1h-3zM664 482h3v1h-3zM670 482h3v1h-3zM676 482h3v1h-3zM682 482h3v1h-3zM688 482h3v1h-3zM694 482h3v1h-3zM700 482h3v1h-3zM706 482h3v1h-3zM712 482h3v1h-3zM718 482h3v1h-3zM724 482h3v1h-3zM730 482h3v1h-3zM736 482h3v1h-3zM742 482h3v1h-3zM748 482h3v1h-3zM754 482h3v1h-3zM760 482h3v1h-3zM766 482h3v1h-3zM772 482h3v1h-3zM778 482h3v1h-3zM784 482h3v1h-3zM790 482h3v1h-3zM796 482h3v1h-3zM802 482h3v1h-3zM808 482h3v1h-3zM814 482h3v1h-3zM820 482h3v1h-3zM826 482h3v1h-3zM832 482h3v1h-3zM838 482h3v1h-3zM844 482h3v1h-3zM850 482h3v1h-3zM856 482h3v1h-3zM862 482h3v1h-3zM868 482h3v1h-3zM874 482h3v1h-3zM880 482h3v1h-3zM886 482h3v1h-3zM892 482h3v1h-3zM898 482h3v1h-3zM904 482h3v1h-3zM910 482h3v1h-3zM916 482h3v1h-3zM922 482h3v1h-3zM928 482h3v1h-3zM934 482h3v1h-3zM940 482h3v1h-3zM946 482h3v1h-3zM952 482h3v1h-3zM958 482h1v1h-1z"/>
<path fill="#c0c0c0" d="M4 508h3v1h-3zM10 508h3v1h-3zM16 508h3v1h-3zM22 508h3v1h-3zM28 508h3v1h-3zM34 508h3v1h-3zM40 508h3v1h-3zM46 508h3v1h-3zM52 508h3v1h-3zM58 508h3v1h-3zM64 508h3v1h-3zM70 508h3v1h-3zM76 508h3v1h-3zM82 508h3v1h-3zM88 508h3v1h-3zM94 508h3v1h-3zM100 508h3v1h-3zM106 508h3v1h-3zM112 508h3v1h-3zM118 508h3v1h-3zM124 508h3v1h-3zM130 508h3v1h-3zM136 508h3v1h-3zM142 508h3v1h-3zM148 508h3v1h-3zM154 508h3v1h-3zM160 508h3v1h-3zM166 508h3v1h-3zM172 508h3v1h-3zM178 508h3v1h-3zM184 508h3v1h-3zM190 508h3v1h-3zM196 508h3v1h-3zM202 508h3v1h-3zM208 508h3v1h-3zM214 508h3v1h-3zM220 508h3v1h-3zM226 508h3v1h-3zM232 508h3v1h-3zM238 508h3v1h-3zM244 508h3v1h-3zM250 508h3v1h-3zM256 508h3v1h-3zM262 508h3v1h-3zM268 508h3v1h-3zM274 508h3v1h-3zM280 508h3v1h-3zM286 508h3v1h-3zM292 508h3v1h-3zM298 508h3v1h-3zM304 508h3v1h-3zM310 508h3v1h-3zM316 508h3v1h-3zM322 508h3v1h-3zM328 508h3v1h-3zM334 508h3v1h-3zM340 508h3v1h-3zM346 508h3v1h-3zM352 508h3v1h-3zM358 508h3v1h-3zM364 508h3v1h-3zM370 508h3v1h-3zM376 508h3v1h-3zM382 508h3v1h-3zM388 508h3v1h-3zM394 508h3v1h-3zM400 508h3v1h-3zM406 508h3v1h-3zM412 508h3v1h-3zM418 508h3v1h-3zM424 508h3v1h-3zM430 508h3v1h-3zM436 508h3v1h-3zM442 508h3v1h-3zM448 508h3v1h-3zM454 508h3v1h-3zM460 508h3v1h-3zM466 508h3v1h-3zM472 508h3v1h-3zM478 508h3v1h-3zM484 508h3v1h-3zM490 508h3v1h-3zM496 508h3v1h-3zM502 508h3v1h-3zM508 508h3v1h-3zM514 508h3v1h-3zM520 508h3v1h-3zM526 508h3v1h-3zM532 508h3v1h-3zM538 508h3v1h-3zM544 508h3v1h-3zM550 508h3v1h-3zM556 508h3v1h-3zM562 508h3v1h-3zM568 508h3v1h-3zM574 508h3v1h-3zM580 508h3v1h-3zM586 508h3v1h-3zM592 508h3v1h-3zM598 508h3v1h-3zM604 508h3v1h-3zM610 508h3v1h-3zM616 508h3v1h-3zM622 508h3v1h-3zM628 508h3v1h-3zM634 508h3v1h-3zM640 508h3v1h-3zM646 508h3v1h-3zM652 508h3v1h-3zM658 508h3v1h-3zM664 508h3v1h-3zM670 508h3v1h-3zM676 508h3v1h-3zM682 508h3v1h-3zM688 508h3v1h-3zM694 508h3v1h-3zM700 508h3v1h-3zM706 508h3v1h-3zM712 508h3v1h-3zM718 508h3v1h-3zM724 508h3v1h-3zM730 508h3v1h-3zM736 508h3v1h-3zM742 508h3v1h-3zM748 508h3v1h-3zM754 508h3v1h-3zM760 508h3v1h-3zM766 508h3v1h-3zM772 508h3v1h-3zM778 508h3v1h-3zM784 508h3v1h-3zM790 508h3v1h-3zM796 508h3v1h-3zM802 508h3v1h-3zM808 508h3v1h-3zM814 508h3v1h-3zM820 508h3v1h-3zM826 508h3v1h-3zM832 508h3v1h-3zM838 508h3v1h-3zM844 508h3v1h-3zM850 508h3v1h-3zM856 508h3v1h-3zM862 508h3v1h-3zM868 508h3v1h-3zM874 508h3v1h-3zM880 508h3v1h-3zM886 508h3v1h-3zM892 508h3v1h-3zM898 508h3v1h-3zM904 508h3v1h-3zM910 508h3v1h-3zM916 508h3v1h-3zM922 508h3v1h-3zM928 508h3v1h-3zM934 508h3v1h-3zM940 508h3v1h-3zM946 508h3v1h-3zM952 508h3v1h-3zM958 508h1v1h-1z"/>
<path fill="#008000" d="M195 23h18v1h-18zM219 23h18v1h-18zM243 23h18v1h-18zM267 23h18v1h-18zM291 23h18v1h-18zM315 23h18v1h-18zM339 23h18v1h-18zM363 23h18v1h-18zM387 23h18v1h-18zM411 23h18v1h-18zM435 23h18v1h-18zM459 23h18v1h-18zM483 23h18v1h-18zM507 23h18v1h-18zM531 23h18v1h-18zM555 23h18v1h-18zM579 23h18v1h-18zM603 23h18v1h-18zM627 23h18v1h-18zM651 23h18v1h-18zM675 23h18v1h-18zM699 23h18v1h-18zM723 23h18v1h-18zM747 23h18v1h-18zM771 23h18v1h-18zM795 23h18v1h-18zM819 23h18v1h-18zM843 23h18v1h-18zM867 23h18v1h-18zM891 23h18v1h-18zM915 23h18v1h-18zM939 23h18v1h-18z"/>
<path fill="#008000" d="M195 115h18v1h-18zM219 115h18v1h-18zM243 115h18v1h-18zM267 115h18v1h-18zM291 115h18v1h-18zM315 115h18v1h-18zM339 115h18v1h-18zM363 115h18v1h-18zM387 115h18v1h-18zM411 115h18v1h-18zM435 115h18v1h-18zM459 115h18v1h-18zM483 115h18v1h-18zM507 115h18v1h-18zM531 115h18v1h-18zM555 115h18v1h-18zM579 115h18v1h-18zM603 115h18v1h-18zM627 115h18v1h-18zM651 115h18v1h-18zM675 115h18v1h-18zM699 115h18v1h-18zM723 115h18v1h-18zM747 115h18v1h-18zM771 115h18v1h-18zM795 115h18v1h-18zM819 115h18v1h-18zM843 115h18v1h-18zM867 115h18v1h-18zM891 115h18v1h-18zM915 115h18v1h-18zM939 115h18v1h-18z"/>
<path fill="#008000" d="M195 172h18v1h-18zM219 172h18v1h-18zM243 172h18v1h-18zM267 172h18v1h-18zM291 172h18v1h-18zM315 172h18v1h-18zM339 172h18v1h-18zM363 172h18v1h-18zM387 172h18v1h-18zM411 172h18v1h-18zM435 172h18v1h-18zM459 172h18v1h-18zM483 172h18v1h-18zM507 172h18v1h-18zM531 172h18v1h-18zM555 172h18v1h-18zM579 172h18v1h-18zM603 172h18v1h-18zM627 172h18v1h-18zM651 172h18v1h-18zM675 172h18v1h-18zM699 172h18v1h-18zM723 172h18v1h-18zM747 172h18v1h-18zM771 172h18v1h-18zM795 172h18v1h-18zM819 172h18v1h-18zM843 172h18v1h-18zM867 172h18v1h-18zM891 172h18v1h-18zM915 172h18v1h-18zM939 172h18v1h-18z"/>
<path fill="#008000" d="M195 218h18v1h-18zM219 218h18v1h-18zM243 218h18v1h-18zM267 218h18v1h-18zM291 218h18v1h-18zM315 218h18v1h-18zM339 218h18v1h-18zM363 218h18v1h-18zM387 218h18v1h-18zM411 218h18v1h-18zM435 218h18v1h-18zM459 218h18v1h-18zM483 218h18v1h-18zM507 218h18v1h-18zM531 218h18v1h-18zM555 218h18v1h-18zM579 218h18v1h-18zM603 218h18v1h-18zM627 218h18v1h-18zM651 218h18v1h-18zM675 218h18v1h-18zM699 218h18v1h-18zM723 218h18v1h-18zM747 218h18v1h-18zM771 218h18v1h-18zM795 218h18v1h-18zM819 218h18v1h-18zM843 218h18v1h-18zM867 218h18v1h-18zM891 218h18v1h-18zM915 218h18v1h-18zM939 218h18v1h-18z"/>
<path fill="#008000" d="M195 264h18v1h-18zM219 264h18v1h-18zM243 264h18v1h-18zM267 264h18v1h-18zM291 264h18v1h-18zM315 264h18v1h-18zM339 264h18v1h-18zM363 264h18v1h-18zM387 264h18v1h-18zM411 264h18v1h-18zM435 264h18v1h-18zM459 264h18v1h-18zM483 264h18v1h-18zM507 264h18v1h-18zM531 264h18v1h-18zM555 264h18v1h-18zM579 264h18v1h-18zM603 264h18v1h-18zM627 264h18v1h-18zM651 264h18v1h-18zM675 264h18v1h-18zM699 264h18v1h-18zM723 264h18v1h-18zM747 264h18v1h-18zM771 264h18v1h-18zM795 264h18v1h-18zM819 264h18v1h-18zM843 264h18v1h-18zM867 264h18v1h-18zM891 264h18v1h-18zM915 264h18v1h-18zM939 264h18v1h-18z"/>
<path fill="#008000" d="M195 413h18v1h-18zM219 413h18v1h-18zM243 413h18v1h-18zM267 413h18v1h-18zM291 413h18v1h-18zM315 413h18v1h-18zM339 413h18v1h-18zM363 413h18v1h-18zM387 413h18v1h-18zM411 413h18v1h-18zM435 413h18v1h-18zM459 413h18v1h-18zM483 413h18v1h-18zM507 413h18v1h-18zM531 413h18v1h-18zM555 413h18v1h-18zM579 413h18v1h-18zM603 413h18v1h-18zM627 413h18v1h-18zM651 413h18v1h-18zM675 413h18v1h-18zM699 413h18v1h-18zM723 413h18v1h-18zM747 413h18v1h-18zM771 413h18v1h-18zM795 413h18v1h-18zM819 413h18v1h-18zM843 413h18v1h-18zM867 413h18v1h-18zM891 413h18v1h-18zM915 413h18v1h-18zM939 413h18v1h-18z"/>
<rect x="3" y="156" width="957" height="1" fill="#c0c0c0"/>
<path fill="#008000" d="M3 143h8v1h-8zM3 144h16v1h-16zM10 145h17v1h-17zM18 146h21v1h-21zM26 147h29v1h-29zM38 148h30v1h-30zM54 149h19v1h-19zM67 150h13v1h-13zM72 151h18v1h-18zM79 152h17v1h-17zM89 153h11v1h-11zM95 154h9v1h-9zM99 155h11v1h-11zM103 156h11v1h-11zM109 157h9v1h-9zM113 158h9v1h-9zM117 159h9v1h-9zM121 160h8v1h-8zM656 160h51v1h-51zM125 161h6v1h-6zM644 161h93v1h-93zM128 162h6v1h-6zM632 162h25v1h-25zM706 162h38v1h-38zM130 163h8v1h-8zM623 163h22v1h-22zM736 163h8v1h-8zM133 164h8v1h-8zM616 164h17v1h-17zM137 165h6v1h-6zM609 165h15v1h-15zM140 166h6v1h-6zM602 166h15v1h-15zM142 167h7v1h-7zM594 167h16v1h-16zM145 168h6v1h-6zM587 168h16v1h-16zM148 169h6v1h-6zM577 169h18v1h-18zM150 170h8v1h-8zM571 170h17v1h-17zM153 171h7v1h-7zM566 171h12v1h-12zM157 172h3v1h-3zM561 172h11v1h-11zM159 173h4v1h-4zM555 173h12v1h-12zM159 174h7v1h-7zM549 174h13v1h-13zM162 175h9v1h-9zM544 175h12v1h-12zM165 176h10v1h-10zM539 176h11v1h-11zM170 177h10v1h-10zM534 177h11v1h-11zM174 178h10v1h-10zM529 178h11v1h-11zM179 179h7v1h-7zM523 179h12v1h-12zM183 180h5v1h-5zM517 180h13v1h-13zM185 181h6v1h-6zM511 181h13v1h-13zM187 182h5v1h-5zM504 182h14v1h-14zM190 183h4v1h-4zM497 183h15v1h-15zM191 184h5v1h-5zM489 184h16v1h-16zM193 185h5v1h-5zM481 185h17v1h-17zM195 186h6v1h-6zM475 186h15v1h-15zM197 187h6v1h-6zM467 187h15v1h-15zM200 188h7v1h-7zM459 188h17v1h-17zM202 189h10v1h-10zM455 189h13v1h-13zM206 190h10v1h-10zM451 190h9v1h-9zM211 191h9v1h-9zM446 191h10v1h-10zM215 192h9v1h-9zM441 192h11v1h-11zM219 193h12v1h-12zM434 193h13v1h-13zM223 194h13v1h-13zM429 194h13v1h-13zM230 195h10v1h-10zM422 195h13v1h-13zM235 196h12v1h-12zM416 196h14v1h-14zM239 197h16v1h-16zM414 197h9v1h-9zM246 198h17v1h-17zM412 198h5v1h-5zM254 199h26v1h-26zM409 199h6v1h-6zM262 200h25v1h-25zM406 200h7v1h-7zM279 201h17v1h-17zM399 201h11v1h-11zM286 202h18v1h-18zM392 202h15v1h-15zM295 203h16v1h-16zM386 203h14v1h-14zM303 204h40v1h-40zM371 204h22v1h-22zM310 205h77v1h-77zM342 206h30v1h-30z"/>
<path fill="#ffa500" d="M615 23h1v1h-1zM611 27h1v1h-1zM610 28h1v1h-1zM609 29h1v1h-1zM605 32h1v1h-1zM604 33h1v1h-1zM603 34h1v1h-1zM599 38h1v1h-1zM598 39h1v1h-1zM597 40h1v1h-1zM593 43h1v1h-1zM592 44h1v1h-1zM591 45h1v1h-1zM587 49h1v1h-1zM586 50h1v1h-1zM585 51h1v1h-1zM581 55h1v1h-1zM579 56h2v1h-2zM575 60h1v1h-1zM574 61h1v1h-1zM573 62h1v1h-1zM569 66h1v1h-1zM568 67h1v1h-1zM567 68h1v1h-1zM563 71h1v1h-1zM562 72h1v1h-1zM561 73h1v1h-1zM557 77h1v1h-1zM556 78h1v1h-1zM555 79h1v1h-1zM551 82h1v1h-1zM550 83h1v1h-1zM549 84h1v1h-1zM545 88h1v1h-1zM544 89h1v1h-1zM543 90h1v1h-1zM538 94h2v1h-2zM537 95h1v1h-1zM533 99h1v1h-1zM532 100h1v1h-1zM531 101h1v1h-1zM527 105h1v1h-1zM526 106h1v1h-1zM525 107h1v1h-1zM521 110h1v1h-1zM520 111h1v1h-1zM519 112h1v1h-1zM515 116h1v1h-1zM514 117h1v1h-1zM513 118h1v1h-1zM509 121h1v1h-1zM508 122h1v1h-1zM507 123h1v1h-1zM503 127h1v1h-1zM502 128h1v1h-1zM501 129h1v1h-1zM497 133h1v1h-1zM495 134h2v1h-2zM491 138h1v1h-1zM490 139h1v1h-1zM489 140h1v1h-1zM485 144h1v1h-1zM484 145h1v1h-1zM483 146h1v1h-1zM479 149h1v1h-1zM478 150h1v1h-1zM477 151h1v1h-1zM473 155h1v1h-1zM472 156h1v1h-1zM471 157h1v1h-1zM467 160h1v1h-1zM466 161h1v1h-1zM465 162h1v1h-1zM461 166h1v1h-1zM460 167h1v1h-1zM459 168h1v1h-1zM454 172h2v1h-2zM453 173h1v1h-1zM449 177h1v1h-1zM448 178h1v1h-1zM447 179h1v1h-1zM443 183h1v1h-1zM442 184h1v1h-1zM441 185h1v1h-1zM437 188h1v1h-1zM436 189h1v1h-1zM435 190h1v1h-1zM431 194h1v1h-1zM430 195h1v1h-1zM429 196h1v1h-1zM425 199h1v1h-1zM424 200h1v1h-1zM423 201h1v1h-1zM419 205h1v1h-1zM418 206h1v1h-1zM417 207h1v1h-1zM412 211h2v1h-2zM411 212h1v1h-1zM407 216h1v1h-1zM406 217h1v1h-1zM405 218h1v1h-1zM401 222h1v1h-1zM400 223h1v1h-1zM399 224h1v1h-1zM395 227h1v1h-1zM394 228h1v1h-1zM393 229h1v1h-1zM389 233h1v1h-1zM388 234h1v1h-1zM387 235h1v1h-1zM383 238h1v1h-1zM382 239h1v1h-1zM381 240h1v1h-1zM377 244h1v1h-1zM376 245h1v1h-1zM375 246h1v1h-1zM370 250h2v1h-2zM369 251h1v1h-1zM365 255h1v1h-1zM364 256h1v1h-1zM363 257h1v1h-1zM359 261h1v1h-1zM358 262h1v1h-1zM357 263h1v1h-1zM353 266h1v1h-1zM352 267h1v1h-1zM351 268h1v1h-1zM347 272h1v1h-1zM346 273h1v1h-1zM345 274h1v1h-1zM341 277h1v1h-1zM340 278h1v1h-1zM339 279h1v1h-1zM335 283h1v1h-1zM334 284h1v1h-1zM333 285h1v1h-1zM329 289h1v1h-1zM327 290h2v1h-2zM323 294h1v1h-1zM322 295h1v1h-1zM321 296h1v1h-1zM317 300h1v1h-1zM316 301h1v1h-1zM315 302h1v1h-1zM311 305h1v1h-1zM310 306h1v1h-1zM309 307h1v1h-1zM305 311h1v1h-1zM304 312h1v1h-1zM303 313h1v1h-1zM299 316h1v1h-1zM298 317h1v1h-1zM297 318h1v1h-1zM293 322h1v1h-1zM292 323h1v1h-1zM291 324h1v1h-1zM286 328h2v1h-2zM285 329h1v1h-1zM281 333h1v1h-1zM280 334h1v1h-1zM279 335h1v1h-1zM275 339h1v1h-1zM274 340h1v1h-1zM273 341h1v1h-1zM269 344h1v1h-1zM268 345h1v1h-1zM267 346h1v1h-1zM263 350h1v1h-1zM262 351h1v1h-1zM261 352h1v1h-1zM257 355h1v1h-1zM256 356h1v1h-1zM255 357h1v1h-1zM251 361h1v1h-1zM250 362h1v1h-1zM249 363h1v1h-1zM245 367h1v1h-1zM243 368h2v1h-2zM239 372h1v1h-1zM238 373h1v1h-1zM237 374h1v1h-1zM233 378h1v1h-1zM232 379h1v1h-1zM231 380h1v1h-1zM227 383h1v1h-1zM226 384h1v1h-1zM225 385h1v1h-1zM221 389h1v1h-1zM220 390h1v1h-1zM219 391h1v1h-1zM215 394h1v1h-1zM214 395h1v1h-1zM213 396h1v1h-1zM209 400h1v1h-1zM208 401h1v1h-1zM207 402h1v1h-1zM202 406h2v1h-2zM201 407h1v1h-1zM197 411h1v1h-1zM196 412h1v1h-1zM195 413h1v1h-1z"/>
<path fill="#ff0000" d="M3 63h1v25h-1zM2 79h3v9h-3z"/>
<path fill="#ff0000" d="M7 80h1v20h-1zM6 84h3v6h-3z"/>
<path fill="#0000ff" d="M11 82h1v21h-1zM10 91h3v2h-3z"/>
<path fill="#ff0000" d="M15 85h1v39h-1zM14 91h3v28h-3z"/>
<path fill="#0000ff" d="M19 96h1v29h-1zM18 102h3v17h-3z"/>
<path fill="#0000ff" d="M23 82h1v28h-1zM22 94h3v9h-3z"/>
<path fill="#ff0000" d="M27 90h1v35h-1zM26 103h3v15h-3z"/>
<path fill="#ff0000" d="M31 107h1v21h-1zM30 117h3v4h-3z"/>
<path fill="#0000ff" d="M35 104h1v26h-1zM34 112h3v9h-3z"/>
<path fill="#0000ff" d="M39 93h1v26h-1zM38 105h3v8h-3z"/>
<path fill="#0000ff" d="M43 93h1v13h-1zM42 102h3v4h-3z"/>
<path fill="#0000ff" d="M47 91h1v17h-1zM46 100h3v8h-3z"/>
<path fill="#ff0000" d="M51 96h1v20h-1zM50 100h3v15h-3z"/>
<path fill="#ff0000" d="M55 114h1v42h-1zM54 114h3v35h-3z"/>
<path fill="#ff0000" d="M59 145h1v27h-1zM58 149h3v17h-3z"/>
<path fill="#ff0000" d="M63 165h1v22h-1zM62 171h3v9h-3z"/>
<path fill="#0000ff" d="M67 143h1v41h-1zM66 155h3v25h-3z"/>
<path fill="#ff0000" d="M71 151h1v20h-1zM70 155h3v11h-3z"/>
<path fill="#0000ff" d="M75 149h1v23h-1zM74 165h3v7h-3z"/>
<path fill="#0000ff" d="M79 149h1v19h-1zM78 154h3v10h-3z"/>
<path fill="#0000ff" d="M83 123h1v37h-1zM82 127h3v29h-3z"/>
<path fill="#ff0000" d="M87 122h1v41h-1zM86 132h3v18h-3z"/>
<path fill="#ff0000" d="M91 135h1v38h-1zM90 152h3v9h-3z"/>
<path fill="#ff0000" d="M95 155h1v47h-1zM94 162h3v36h-3z"/>
<path fill="#ff0000" d="M99 193h1v37h-1zM98 194h3v24h-3z"/>
<path fill="#ff0000" d="M103 201h1v39h-1zM102 217h3v16h-3z"/>
<path fill="#0000ff" d="M107 205h1v38h-1zM106 207h3v28h-3z"/>
<path fill="#ff0000" d="M111 201h1v41h-1zM110 207h3v29h-3z"/>
<path fill="#0000ff" d="M115 213h1v47h-1zM114 214h3v23h-3z"/>
<path fill="#0000ff" d="M119 213h1v22h-1zM118 222h3v5h-3z"/>
<path fill="#ff0000" d="M123 215h1v31h-1zM122 222h3v19h-3z"/>
<path fill="#ff0000" d="M127 238h1v70h-1zM126 241h3v54h-3z"/>
<path fill="#ff0000" d="M131 289h1v80h-1zM130 297h3v18h-3z"/>
<path fill="#ff0000" d="M135 305h1v48h-1zM134 318h3v30h-3z"/>
<path fill="#0000ff" d="M139 324h1v29h-1zM138 330h3v17h-3z"/>
<path fill="#ff0000" d="M143 322h1v37h-1zM142 330h3v16h-3z"/>
<path fill="#ff0000" d="M147 337h1v32h-1zM146 346h3v12h-3z"/>
<path fill="#ff0000" d="M151 344h1v39h-1zM150 360h3v20h-3z"/>
<path fill="#0000ff" d="M155 347h1v38h-1zM154 357h3v25h-3z"/>
<path fill="#ff0000" d="M159 329h1v40h-1zM158 353h3v3h-3z"/>
<path fill="#0000ff" d="M163 320h1v41h-1zM162 336h3v21h-3z"/>
<path fill="#0000ff" d="M167 295h1v51h-1zM166 304h3v34h-3z"/>
<path fill="#ff0000" d="M171 288h1v52h-1zM170 305h3v32h-3z"/>
<path fill="#0000ff" d="M175 315h1v27h-1zM174 321h3v17h-3z"/>
<path fill="#0000ff" d="M179 316h1v20h-1zM178 322h3v2h-3z"/>
<path fill="#ff0000" d="M183 319h1v35h-1zM182 322h3v20h-3z"/>
<path fill="#ff0000" d="M187 330h1v41h-1zM186 342h3v25h-3z"/>
<path fill="#ff0000" d="M191 366h1v38h-1zM190 367h3v32h-3z"/>
<path fill="#0000ff" d="M195 368h1v46h-1zM194 375h3v24h-3z"/>
<path fill="#0000ff" d="M199 354h1v26h-1zM198 367h3v7h-3z"/>
<path fill="#0000ff" d="M203 332h1v39h-1zM202 336h3v32h-3z"/>
<path fill="#0000ff" d="M207 320h1v25h-1zM206 323h3v16h-3z"/>
<path fill="#ff0000" d="M211 315h1v37h-1zM210 323h3v29h-3z"/>
<path fill="#0000ff" d="M215 330h1v24h-1zM214 337h3v17h-3z"/>
<path fill="#0000ff" d="M219 322h1v31h-1zM218 327h3v11h-3z"/>
<path fill="#0000ff" d="M223 311h1v27h-1zM222 323h3v6h-3z"/>
<path fill="#0000ff" d="M227 293h1v32h-1zM226 298h3v26h-3z"/>
<path fill="#ff0000" d="M231 279h1v36h-1zM230 300h3v12h-3z"/>
<path fill="#ff0000" d="M235 308h1v39h-1zM234 313h3v18h-3z"/>
<path fill="#0000ff" d="M239 315h1v29h-1zM238 319h3v20h-3z"/>
<path fill="#0000ff" d="M243 310h1v27h-1zM242 316h3v5h-3z"/>
<path fill="#0000ff" d="M247 300h1v39h-1zM246 303h3v14h-3z"/>
<path fill="#0000ff" d="M251 266h1v44h-1zM250 269h3v36h-3z"/>
<path fill="#0000ff" d="M255 259h1v22h-1zM254 269h3v3h-3z"/>
<path fill="#ff0000" d="M259 268h1v26h-1zM258 274h3v12h-3z"/>
<path fill="#ff0000" d="M263 277h1v30h-1zM262 286h3v16h-3z"/>
<path fill="#0000ff" d="M267 283h1v26h-1zM266 297h3v5h-3z"/>
<path fill="#0000ff" d="M271 266h1v39h-1zM270 268h3v30h-3z"/>
<path fill="#0000ff" d="M275 253h1v29h-1zM274 264h3v5h-3z"/>
<path fill="#ff0000" d="M279 252h1v26h-1zM278 266h3v5h-3z"/>
<path fill="#0000ff" d="M283 244h1v31h-1zM282 246h3v27h-3z"/>
<path fill="#ff0000" d="M287 245h1v37h-1zM286 246h3v33h-3z"/>
<path fill="#ff0000" d="M291 268h1v25h-1zM290 276h3v3h-3z"/>
<path fill="#ff0000" d="M295 276h1v24h-1zM294 278h3v9h-3z"/>
<path fill="#ff0000" d="M299 279h1v26h-1zM298 289h3v7h-3z"/>
<path fill="#0000ff" d="M303 271h1v34h-1zM302 289h3v7h-3z"/>
<path fill="#0000ff" d="M307 240h1v54h-1zM306 246h3v45h-3z"/>
<path fill="#0000ff" d="M311 237h1v17h-1zM310 246h3v2h-3z"/>
<path fill="#ff0000" d="M315 246h1v19h-1zM314 248h3v11h-3z"/>
<path fill="#0000ff" d="M319 246h1v19h-1zM318 251h3v14h-3z"/>
<path fill="#0000ff" d="M323 231h1v30h-1zM322 236h3v22h-3z"/>
<path fill="#0000ff" d="M327 225h1v28h-1zM326 227h3v11h-3z"/>
<path fill="#0000ff" d="M331 212h1v21h-1zM330 215h3v13h-3z"/>
<path fill="#ff0000" d="M335 208h1v33h-1zM334 215h3v20h-3z"/>
<path fill="#ff0000" d="M339 226h1v23h-1zM338 239h3v9h-3z"/>
<path fill="#0000ff" d="M343 239h1v21h-1zM342 244h3v6h-3z"/>
<path fill="#0000ff" d="M347 232h1v19h-1zM346 240h3v7h-3z"/>
<path fill="#0000ff" d="M351 210h1v36h-1zM350 220h3v23h-3z"/>
<path fill="#ff0000" d="M355 213h1v18h-1zM354 222h3v1h-3z"/>
<path fill="#ff0000" d="M359 214h1v27h-1zM358 221h3v11h-3z"/>
<path fill="#0000ff" d="M363 196h1v45h-1zM362 203h3v30h-3z"/>
<path fill="#0000ff" d="M367 187h1v22h-1zM366 192h3v13h-3z"/>
<path fill="#0000ff" d="M371 175h1v27h-1zM370 181h3v13h-3z"/>
<path fill="#0000ff" d="M375 160h1v25h-1zM374 165h3v18h-3z"/>
<path fill="#0000ff" d="M379 147h1v23h-1zM378 150h3v20h-3z"/>
<path fill="#0000ff" d="M383 137h1v20h-1zM382 147h3v5h-3z"/>
<path fill="#0000ff" d="M387 121h1v30h-1zM386 128h3v21h-3z"/>
<path fill="#0000ff" d="M391 99h1v37h-1zM390 101h3v29h-3z"/>
<path fill="#ff0000" d="M395 89h1v22h-1zM394 103h3v5h-3z"/>
<path fill="#0000ff" d="M399 88h1v23h-1zM398 95h3v14h-3z"/>
<path fill="#0000ff" d="M403 66h1v33h-1zM402 68h3v28h-3z"/>
<path fill="#0000ff" d="M407 53h1v30h-1zM406 56h3v15h-3z"/>
<path fill="#ff0000" d="M411 54h1v20h-1zM410 61h3v4h-3z"/>
<path fill="#0000ff" d="M415 43h1v27h-1zM414 54h3v11h-3z"/>
<path fill="#0000ff" d="M419 29h1v33h-1zM418 42h3v13h-3z"/>
<path fill="#ff0000" d="M423 33h1v20h-1zM422 43h3v4h-3z"/>
<path fill="#0000ff" d="M427 29h1v24h-1zM426 30h3v18h-3z"/>
<path fill="#ff0000" d="M431 28h1v29h-1zM430 32h3v10h-3z"/>
<path fill="#ff0000" d="M435 36h1v29h-1zM434 42h3v10h-3z"/>
<path fill="#0000ff" d="M439 50h1v23h-1zM438 51h3v4h-3z"/>
<path fill="#0000ff" d="M443 35h1v27h-1zM442 47h3v6h-3z"/>
<path fill="#ff0000" d="M447 45h1v16h-1zM446 48h3v1h-3z"/>
<path fill="#0000ff" d="M451 39h1v21h-1zM450 46h3v4h-3z"/>
<path fill="#ff0000" d="M455 45h1v31h-1zM454 48h3v17h-3z"/>
<path fill="#0000ff" d="M459 53h1v16h-1zM458 66h3v3h-3z"/>
<path fill="#ff0000" d="M463 58h1v33h-1zM462 66h3v21h-3z"/>
<path fill="#0000ff" d="M467 63h1v38h-1zM466 72h3v15h-3z"/>
<path fill="#ff0000" d="M471 72h1v33h-1zM470 73h3v20h-3z"/>
<path fill="#ff0000" d="M475 81h1v18h-1zM474 92h3v7h-3z"/>
<path fill="#0000ff" d="M479 72h1v22h-1zM478 83h3v10h-3z"/>
<path fill="#ff0000" d="M483 61h1v59h-1zM482 85h3v8h-3z"/>
<path fill="#ff0000" d="M487 82h1v26h-1zM486 92h3v10h-3z"/>
<path fill="#ff0000" d="M491 101h1v30h-1zM490 103h3v14h-3z"/>
<path fill="#0000ff" d="M495 92h1v33h-1zM494 107h3v12h-3z"/>
<path fill="#ff0000" d="M499 100h1v29h-1zM498 105h3v3h-3z"/>
<path fill="#ff0000" d="M503 101h1v28h-1zM502 110h3v12h-3z"/>
<path fill="#0000ff" d="M507 104h1v23h-1zM506 113h3v12h-3z"/>
<path fill="#ff0000" d="M511 112h1v36h-1zM510 115h3v26h-3z"/>
<path fill="#0000ff" d="M515 103h1v43h-1zM514 120h3v22h-3z"/>
<path fill="#0000ff" d="M519 109h1v17h-1zM518 119h3v5h-3z"/>
<path fill="#0000ff" d="M523 105h1v24h-1zM522 112h3v8h-3z"/>
<path fill="#ff0000" d="M527 100h1v25h-1zM526 113h3v6h-3z"/>
<path fill="#0000ff" d="M531 65h1v68h-1zM530 66h3v55h-3z"/>
<path fill="#0000ff" d="M535 59h1v20h-1zM534 64h3v6h-3z"/>
<path fill="#ff0000" d="M539 58h1v25h-1zM538 69h3v7h-3z"/>
<path fill="#ff0000" d="M543 63h1v28h-1zM542 75h3v6h-3z"/>
<path fill="#0000ff" d="M547 61h1v23h-1zM546 71h3v12h-3z"/>
<path fill="#ff0000" d="M551 60h1v40h-1zM550 71h3v20h-3z"/>
<path fill="#ff0000" d="M555 86h1v25h-1zM554 90h3v20h-3z"/>
<path fill="#ff0000" d="M559 102h1v16h-1zM558 108h3v4h-3z"/>
<path fill="#0000ff" d="M563 87h1v30h-1zM562 95h3v19h-3z"/>
<path fill="#0000ff" d="M567 64h1v38h-1zM566 67h3v30h-3z"/>
<path fill="#0000ff" d="M571 57h1v16h-1zM570 64h3v4h-3z"/>
<path fill="#ff0000" d="M575 62h1v39h-1zM574 66h3v31h-3z"/>
<path fill="#0000ff" d="M579 69h1v32h-1zM578 82h3v17h-3z"/>
<path fill="#ff0000" d="M583 76h1v17h-1zM582 83h3v5h-3z"/>
<path fill="#0000ff" d="M587 80h1v16h-1zM586 87h3v1h-3z"/>
<path fill="#0000ff" d="M591 77h1v17h-1zM590 83h3v5h-3z"/>
<path fill="#ff0000" d="M595 78h1v28h-1zM594 84h3v14h-3z"/>
<path fill="#0000ff" d="M599 84h1v33h-1zM598 91h3v11h-3z"/>
<path fill="#0000ff" d="M603 70h1v24h-1zM602 89h3v5h-3z"/>
<path fill="#0000ff" d="M607 69h1v27h-1zM606 72h3v19h-3z"/>
<path fill="#0000ff" d="M611 41h1v37h-1zM610 43h3v30h-3z"/>
<path fill="#ff0000" d="M615 23h1v25h-1zM614 45h3v3h-3z"/>
<path fill="#ff0000" d="M619 43h1v28h-1zM618 48h3v21h-3z"/>
<path fill="#0000ff" d="M623 53h1v34h-1zM622 53h3v17h-3z"/>
<path fill="#ff0000" d="M627 38h1v24h-1zM626 53h3v6h-3z"/>
<path fill="#0000ff" d="M631 34h1v39h-1zM630 57h3v2h-3z"/>
<path fill="#ff0000" d="M635 49h1v43h-1zM634 59h3v28h-3z"/>
<path fill="#0000ff" d="M639 79h1v19h-1zM638 85h3v6h-3z"/>
<path fill="#0000ff" d="M643 74h1v15h-1zM642 81h3v8h-3z"/>
<path fill="#ff0000" d="M647 76h1v19h-1zM646 83h3v8h-3z"/>
<path fill="#0000ff" d="M651 76h1v21h-1zM650 79h3v13h-3z"/>
<path fill="#0000ff" d="M655 63h1v22h-1zM654 77h3v4h-3z"/>
<path fill="#ff0000" d="M659 73h1v35h-1zM658 78h3v28h-3z"/>
<path fill="#0000ff" d="M663 95h1v18h-1zM662 96h3v12h-3z"/>
<path fill="#0000ff" d="M667 83h1v17h-1zM666 89h3v11h-3z"/>
<path fill="#0000ff" d="M671 73h1v19h-1zM670 74h3v16h-3z"/>
<path fill="#000000" d="M675 68h1v21h-1zM674 78h3v1h-3z"/>
<path fill="#0000ff" d="M679 60h1v26h-1zM678 69h3v13h-3z"/>
<path fill="#ff0000" d="M683 67h1v18h-1zM682 70h3v4h-3z"/>
<path fill="#ff0000" d="M687 66h1v20h-1zM686 74h3v11h-3z"/>
<path fill="#0000ff" d="M691 75h1v26h-1zM690 81h3v4h-3z"/>
<path fill="#0000ff" d="M695 65h1v22h-1zM694 74h3v10h-3z"/>
<path fill="#ff0000" d="M699 74h1v15h-1zM698 82h3v3h-3z"/>
<path fill="#0000ff" d="M703 75h1v23h-1zM702 79h3v7h-3z"/>
<path fill="#ff0000" d="M707 61h1v26h-1zM706 80h3v3h-3z"/>
<path fill="#0000ff" d="M711 65h1v27h-1zM710 68h3v15h-3z"/>
<path fill="#ff0000" d="M715 63h1v21h-1zM714 68h3v7h-3z"/>
<path fill="#ff0000" d="M719 67h1v27h-1zM718 76h3v17h-3z"/>
<path fill="#ff0000" d="M723 90h1v34h-1zM722 93h3v29h-3z"/>
<path fill="#ff0000" d="M727 118h1v21h-1zM726 122h3v7h-3z"/>
<path fill="#0000ff" d="M731 112h1v21h-1zM730 115h3v15h-3z"/>
<path fill="#ff0000" d="M735 113h1v25h-1zM734 117h3v11h-3z"/>
<path fill="#ff0000" d="M739 122h1v26h-1zM738 125h3v20h-3z"/>
<path fill="#ff0000" d="M743 138h1v20h-1zM742 144h3v13h-3z"/>
<path fill="#1e90ff" d="M403 436h6v1h-6zM399 437h4v1h-4zM409 437h2v1h-2zM413 437h10v1h-10zM425 437h6v1h-6zM390 438h4v1h-4zM396 438h3v1h-3zM411 438h2v1h-2zM423 438h2v1h-2zM430 438h2v1h-2zM387 439h3v1h-3zM394 439h2v1h-2zM432 439h1v1h-1zM385 440h2v1h-2zM433 440h2v1h-2zM378 441h7v1h-7zM435 441h1v1h-1zM376 442h2v1h-2zM436 442h16v1h-16zM372 443h4v1h-4zM452 443h1v1h-1zM369 444h3v1h-3zM453 444h1v1h-1zM366 445h3v1h-3zM453 445h1v1h-1zM327 446h5v1h-5zM364 446h2v1h-2zM454 446h1v1h-1zM324 447h3v1h-3zM332 447h2v1h-2zM362 447h2v1h-2zM455 447h5v1h-5zM611 447h4v1h-4zM282 448h2v1h-2zM321 448h3v1h-3zM334 448h2v1h-2zM350 448h7v1h-7zM361 448h1v1h-1zM460 448h1v1h-1zM531 448h6v1h-6zM610 448h1v1h-1zM614 448h2v1h-2zM251 449h5v1h-5zM280 449h2v1h-2zM284 449h1v1h-1zM307 449h6v1h-6zM319 449h2v1h-2zM336 449h1v1h-1zM349 449h2v1h-2zM357 449h2v1h-2zM360 449h1v1h-1zM461 449h1v1h-1zM531 449h1v1h-1zM537 449h2v1h-2zM609 449h1v1h-1zM616 449h1v1h-1zM250 450h1v1h-1zM256 450h2v1h-2zM271 450h9v1h-9zM285 450h1v1h-1zM306 450h1v1h-1zM313 450h6v1h-6zM337 450h1v1h-1zM348 450h1v1h-1zM359 450h1v1h-1zM462 450h1v1h-1zM466 450h2v1h-2zM530 450h1v1h-1zM539 450h4v1h-4zM545 450h3v1h-3zM567 450h5v1h-5zM608 450h1v1h-1zM617 450h1v1h-1zM622 450h4v1h-4zM2 451h4v1h-4zM249 451h1v1h-1zM258 451h2v1h-2zM269 451h2v1h-2zM286 451h1v1h-1zM305 451h1v1h-1zM316 451h1v1h-1zM338 451h1v1h-1zM342 451h6v1h-6zM462 451h1v1h-1zM464 451h2v1h-2zM468 451h1v1h-1zM530 451h1v1h-1zM543 451h2v1h-2zM548 451h1v1h-1zM566 451h1v1h-1zM572 451h1v1h-1zM607 451h1v1h-1zM618 451h1v1h-1zM620 451h2v1h-2zM626 451h6v1h-6zM6 452h6v1h-6zM248 452h1v1h-1zM260 452h2v1h-2zM267 452h2v1h-2zM287 452h3v1h-3zM304 452h1v1h-1zM339 452h3v1h-3zM463 452h1v1h-1zM469 452h1v1h-1zM479 452h2v1h-2zM529 452h1v1h-1zM549 452h1v1h-1zM565 452h1v1h-1zM573 452h1v1h-1zM579 452h1v1h-1zM605 452h2v1h-2zM619 452h1v1h-1zM632 452h1v1h-1zM678 452h5v1h-5zM711 452h5v1h-5zM12 453h1v1h-1zM21 453h3v1h-3zM45 453h4v1h-4zM226 453h5v1h-5zM247 453h1v1h-1zM262 453h1v1h-1zM265 453h2v1h-2zM290 453h4v1h-4zM304 453h1v1h-1zM470 453h2v1h-2zM477 453h2v1h-2zM481 453h2v1h-2zM529 453h1v1h-1zM550 453h2v1h-2zM564 453h1v1h-1zM574 453h1v1h-1zM578 453h1v1h-1zM580 453h2v1h-2zM589 453h3v1h-3zM604 453h1v1h-1zM632 453h1v1h-1zM671 453h2v1h-2zM676 453h2v1h-2zM683 453h2v1h-2zM694 453h3v1h-3zM709 453h2v1h-2zM716 453h1v1h-1zM13 454h1v1h-1zM18 454h3v1h-3zM24 454h2v1h-2zM36 454h9v1h-9zM49 454h1v1h-1zM83 454h2v1h-2zM223 454h3v1h-3zM230 454h3v1h-3zM245 454h2v1h-2zM263 454h2v1h-2zM294 454h4v1h-4zM301 454h3v1h-3zM472 454h2v1h-2zM475 454h2v1h-2zM483 454h2v1h-2zM528 454h1v1h-1zM552 454h1v1h-1zM563 454h1v1h-1zM574 454h1v1h-1zM576 454h2v1h-2zM582 454h7v1h-7zM592 454h2v1h-2zM598 454h6v1h-6zM633 454h1v1h-1zM642 454h1v1h-1zM651 454h5v1h-5zM669 454h2v1h-2zM673 454h3v1h-3zM685 454h2v1h-2zM692 454h2v1h-2zM697 454h2v1h-2zM701 454h5v1h-5zM708 454h1v1h-1zM717 454h1v1h-1zM14 455h1v1h-1zM16 455h2v1h-2zM26 455h2v1h-2zM32 455h4v1h-4zM50 455h2v1h-2zM82 455h1v1h-1zM85 455h1v1h-1zM220 455h3v1h-3zM233 455h2v1h-2zM238 455h7v1h-7zM298 455h3v1h-3zM474 455h1v1h-1zM485 455h2v1h-2zM528 455h1v1h-1zM553 455h2v1h-2zM561 455h2v1h-2zM575 455h1v1h-1zM594 455h1v1h-1zM596 455h2v1h-2zM634 455h1v1h-1zM640 455h5v1h-5zM650 455h1v1h-1zM656 455h1v1h-1zM668 455h1v1h-1zM687 455h5v1h-5zM699 455h2v1h-2zM706 455h2v1h-2zM718 455h1v1h-1zM15 456h1v1h-1zM28 456h5v1h-5zM51 456h1v1h-1zM81 456h1v1h-1zM86 456h2v1h-2zM205 456h3v1h-3zM216 456h4v1h-4zM235 456h3v1h-3zM487 456h2v1h-2zM493 456h7v1h-7zM520 456h5v1h-5zM527 456h1v1h-1zM555 456h3v1h-3zM560 456h1v1h-1zM595 456h1v1h-1zM635 456h5v1h-5zM645 456h2v1h-2zM648 456h2v1h-2zM656 456h1v1h-1zM665 456h3v1h-3zM719 456h1v1h-1zM52 457h1v1h-1zM80 457h1v1h-1zM88 457h2v1h-2zM203 457h2v1h-2zM208 457h2v1h-2zM214 457h2v1h-2zM489 457h4v1h-4zM500 457h2v1h-2zM506 457h2v1h-2zM515 457h5v1h-5zM525 457h2v1h-2zM558 457h2v1h-2zM647 457h1v1h-1zM657 457h1v1h-1zM662 457h3v1h-3zM720 457h1v1h-1zM53 458h1v1h-1zM79 458h1v1h-1zM90 458h1v1h-1zM202 458h1v1h-1zM210 458h1v1h-1zM212 458h2v1h-2zM490 458h1v1h-1zM502 458h1v1h-1zM504 458h2v1h-2zM508 458h1v1h-1zM514 458h1v1h-1zM658 458h1v1h-1zM660 458h2v1h-2zM721 458h1v1h-1zM54 459h1v1h-1zM68 459h1v1h-1zM78 459h1v1h-1zM91 459h1v1h-1zM167 459h2v1h-2zM201 459h1v1h-1zM211 459h1v1h-1zM503 459h1v1h-1zM509 459h2v1h-2zM513 459h1v1h-1zM659 459h1v1h-1zM721 459h1v1h-1zM54 460h2v1h-2zM67 460h3v1h-3zM76 460h2v1h-2zM92 460h1v1h-1zM166 460h1v1h-1zM169 460h15v1h-15zM200 460h1v1h-1zM510 460h1v1h-1zM512 460h1v1h-1zM722 460h1v1h-1zM730 460h3v1h-3zM56 461h2v1h-2zM66 461h1v1h-1zM70 461h6v1h-6zM93 461h1v1h-1zM106 461h2v1h-2zM114 461h7v1h-7zM165 461h1v1h-1zM184 461h3v1h-3zM197 461h3v1h-3zM511 461h1v1h-1zM723 461h1v1h-1zM729 461h1v1h-1zM733 461h2v1h-2zM58 462h2v1h-2zM64 462h2v1h-2zM94 462h1v1h-1zM106 462h1v1h-1zM108 462h1v1h-1zM113 462h2v1h-2zM121 462h2v1h-2zM164 462h1v1h-1zM186 462h2v1h-2zM195 462h2v1h-2zM723 462h3v1h-3zM728 462h1v1h-1zM735 462h2v1h-2zM60 463h2v1h-2zM63 463h1v1h-1zM94 463h3v1h-3zM105 463h1v1h-1zM109 463h2v1h-2zM112 463h1v1h-1zM123 463h1v1h-1zM163 463h1v1h-1zM188 463h2v1h-2zM193 463h2v1h-2zM726 463h2v1h-2zM737 463h2v1h-2zM62 464h1v1h-1zM97 464h3v1h-3zM104 464h1v1h-1zM111 464h1v1h-1zM124 464h1v1h-1zM161 464h2v1h-2zM190 464h3v1h-3zM739 464h2v1h-2zM100 465h2v1h-2zM104 465h1v1h-1zM125 465h1v1h-1zM160 465h1v1h-1zM741 465h2v1h-2zM102 466h2v1h-2zM126 466h1v1h-1zM154 466h7v1h-7zM743 466h1v1h-1zM127 467h3v1h-3zM138 467h3v1h-3zM154 467h1v1h-1zM130 468h3v1h-3zM137 468h1v1h-1zM141 468h8v1h-8zM153 468h1v1h-1zM133 469h2v1h-2zM136 469h1v1h-1zM149 469h2v1h-2zM152 469h1v1h-1zM135 470h1v1h-1zM151 470h1v1h-1z"/>
<path fill="#ff0000" d="M441 489h3v1h-3zM429 490h3v1h-3zM435 490h3v1h-3zM447 490h3v1h-3zM453 490h3v1h-3zM423 491h3v1h-3zM459 491h3v1h-3zM417 492h3v1h-3zM465 492h2v1h-2zM467 493h1v1h-1zM411 494h3v1h-3zM471 494h3v1h-3zM405 495h3v1h-3zM401 496h1v1h-1zM477 496h2v1h-2zM399 497h2v1h-2zM479 497h1v1h-1zM393 498h3v1h-3zM483 498h3v1h-3zM389 499h1v1h-1zM489 499h2v1h-2zM381 500h3v1h-3zM387 500h2v1h-2zM491 500h1v1h-1zM375 501h3v1h-3zM495 501h1v1h-1zM345 502h3v1h-3zM351 502h3v1h-3zM357 502h3v1h-3zM363 502h3v1h-3zM369 502h3v1h-3zM496 502h2v1h-2zM327 503h3v1h-3zM333 503h3v1h-3zM339 503h3v1h-3zM501 503h1v1h-1zM309 504h3v1h-3zM315 504h3v1h-3zM321 504h3v1h-3zM502 504h2v1h-2zM291 505h3v1h-3zM297 505h3v1h-3zM303 505h3v1h-3zM507 505h3v1h-3zM633 505h3v1h-3zM639 505h3v1h-3zM645 505h3v1h-3zM285 506h3v1h-3zM513 506h1v1h-1zM622 506h2v1h-2zM627 506h3v1h-3zM651 506h3v1h-3zM657 506h3v1h-3zM29 507h1v1h-1zM33 507h3v1h-3zM39 507h3v1h-3zM279 507h3v1h-3zM514 507h2v1h-2zM519 507h3v1h-3zM555 507h3v1h-3zM561 507h3v1h-3zM567 507h3v1h-3zM573 507h3v1h-3zM579 507h3v1h-3zM585 507h3v1h-3zM591 507h3v1h-3zM597 507h3v1h-3zM603 507h3v1h-3zM609 507h3v1h-3zM615 507h3v1h-3zM621 507h1v1h-1zM663 507h3v1h-3zM669 507h1v1h-1zM15 508h3v1h-3zM21 508h3v1h-3zM27 508h2v1h-2zM45 508h3v1h-3zM51 508h3v1h-3zM273 508h3v1h-3zM525 508h3v1h-3zM543 508h3v1h-3zM549 508h3v1h-3zM670 508h2v1h-2zM675 508h3v1h-3zM681 508h3v1h-3zM687 508h3v1h-3zM693 508h3v1h-3zM699 508h3v1h-3zM705 508h3v1h-3zM711 508h3v1h-3zM717 508h3v1h-3zM723 508h3v1h-3zM729 508h1v1h-1zM9 509h3v1h-3zM57 509h3v1h-3zM63 509h1v1h-1zM267 509h3v1h-3zM531 509h3v1h-3zM537 509h3v1h-3zM730 509h2v1h-2zM3 510h3v1h-3zM64 510h2v1h-2zM69 510h2v1h-2zM262 510h2v1h-2zM735 510h3v1h-3zM741 510h3v1h-3zM71 511h1v1h-1zM75 511h3v1h-3zM81 511h2v1h-2zM261 511h1v1h-1zM83 512h1v1h-1zM87 512h3v1h-3zM255 512h3v1h-3zM93 513h3v1h-3zM99 513h1v1h-1zM250 513h2v1h-2zM100 514h2v1h-2zM105 514h3v1h-3zM249 514h1v1h-1zM111 515h3v1h-3zM243 515h3v1h-3zM117 516h3v1h-3zM123 516h1v1h-1zM237 516h3v1h-3zM124 517h2v1h-2zM129 518h3v1h-3zM231 518h3v1h-3zM225 519h3v1h-3zM135 520h3v1h-3zM221 520h1v1h-1zM219 521h2v1h-2zM141 522h3v1h-3zM209 522h1v1h-1zM213 522h3v1h-3zM147 523h3v1h-3zM201 523h3v1h-3zM207 523h2v1h-2zM153 524h1v1h-1zM195 524h3v1h-3zM154 525h2v1h-2zM189 525h3v1h-3zM159 526h3v1h-3zM183 526h3v1h-3zM177 527h3v1h-3zM165 528h3v1h-3zM171 528h3v1h-3z"/>
<path fill="#000" d="M59 508h1v3h-1zM63 508h1v4h-1zM67 508h1v5h-1zM71 508h1v5h-1zM75 508h1v5h-1zM79 508h1v5h-1zM83 508h1v5h-1zM87 508h1v4h-1zM91 508h1v5h-1zM95 508h1v5h-1zM99 508h1v7h-1zM103 508h1v8h-1zM107 508h1v9h-1zM111 508h1v10h-1zM115 508h1v10h-1zM119 508h1v9h-1zM123 508h1v11h-1zM127 508h1v12h-1zM131 508h1v15h-1zM135 508h1v17h-1zM139 508h1v18h-1zM143 508h1v19h-1zM147 508h1v20h-1zM151 508h1v21h-1zM155 508h1v21h-1zM159 508h1v21h-1zM163 508h1v20h-1zM167 508h1v18h-1zM171 508h1v17h-1zM175 508h1v16h-1zM179 508h1v15h-1zM183 508h1v15h-1zM187 508h1v15h-1zM191 508h1v16h-1zM195 508h1v17h-1zM199 508h1v15h-1zM203 508h1v13h-1zM207 508h1v12h-1zM211 508h1v11h-1zM215 508h1v10h-1zM219 508h1v9h-1zM223 508h1v8h-1zM227 508h1v5h-1zM231 508h1v5h-1zM235 508h1v4h-1zM239 508h1v4h-1zM243 508h1v3h-1zM247 508h1v1h-1zM271 507h1v2h-1zM275 507h1v2h-1zM279 506h1v3h-1zM283 505h1v4h-1zM287 505h1v4h-1zM291 505h1v4h-1zM295 505h1v4h-1zM299 506h1v3h-1zM303 506h1v3h-1zM307 505h1v4h-1zM311 504h1v5h-1zM315 504h1v5h-1zM319 504h1v5h-1zM323 504h1v5h-1zM327 503h1v6h-1zM331 502h1v7h-1zM335 503h1v6h-1zM339 503h1v6h-1zM343 503h1v6h-1zM347 502h1v7h-1zM351 503h1v6h-1zM355 503h1v6h-1zM359 503h1v6h-1zM363 502h1v7h-1zM367 502h1v7h-1zM371 501h1v8h-1zM375 500h1v9h-1zM379 499h1v10h-1zM383 498h1v11h-1zM387 497h1v12h-1zM391 496h1v13h-1zM395 495h1v14h-1zM399 494h1v15h-1zM403 493h1v16h-1zM407 491h1v18h-1zM411 491h1v18h-1zM415 490h1v19h-1zM419 490h1v19h-1zM423 490h1v19h-1zM427 490h1v19h-1zM431 490h1v19h-1zM435 490h1v19h-1zM439 491h1v18h-1zM443 492h1v17h-1zM447 493h1v16h-1zM451 494h1v15h-1zM455 495h1v14h-1zM459 496h1v13h-1zM463 498h1v11h-1zM467 499h1v10h-1zM471 500h1v9h-1zM475 502h1v7h-1zM479 503h1v6h-1zM483 504h1v5h-1zM487 505h1v4h-1zM491 506h1v3h-1zM495 507h1v2h-1zM515 508h1v2h-1zM519 508h1v2h-1zM523 508h1v1h-1zM527 508h1v1h-1zM615 506h1v3h-1zM619 506h1v3h-1zM623 506h1v3h-1zM627 506h1v3h-1zM631 506h1v3h-1zM635 506h1v3h-1zM639 507h1v2h-1zM643 507h1v2h-1zM731 508h1v1h-1zM735 508h1v4h-1zM739 508h1v5h-1zM743 508h1v6h-1z"/>
<path fill="#000" d="M3 508h1v1h-1zM7 508h1v1h-1zM11 508h1v1h-1zM15 508h1v1h-1zM19 508h1v1h-1zM23 508h1v1h-1zM27 508h1v1h-1zM31 508h1v1h-1zM35 508h1v1h-1zM39 508h1v1h-1zM43 508h1v1h-1zM47 508h1v1h-1zM51 508h1v1h-1zM55 508h1v1h-1zM251 508h1v1h-1zM255 508h1v1h-1zM259 508h1v1h-1zM263 508h1v1h-1zM267 508h1v1h-1zM499 508h1v1h-1zM503 508h1v1h-1zM507 508h1v1h-1zM511 508h1v1h-1zM531 508h1v1h-1zM535 508h1v1h-1zM539 508h1v1h-1zM543 508h1v1h-1zM547 508h1v1h-1zM551 508h1v1h-1zM555 508h1v1h-1zM559 508h1v1h-1zM563 508h1v1h-1zM567 508h1v1h-1zM571 508h1v1h-1zM575 508h1v1h-1zM579 508h1v1h-1zM583 508h1v1h-1zM587 508h1v1h-1zM591 508h1v1h-1zM595 508h1v1h-1zM599 508h1v1h-1zM603 508h1v1h-1zM607 508h1v1h-1zM611 508h1v1h-1zM647 508h1v1h-1zM651 508h1v1h-1zM655 508h1v1h-1zM659 508h1v1h-1zM663 508h1v1h-1zM667 508h1v1h-1zM671 508h1v1h-1zM675 508h1v1h-1zM679 508h1v1h-1zM683 508h1v1h-1zM687 508h1v1h-1zM691 508h1v1h-1zM695 508h1v1h-1zM699 508h1v1h-1zM703 508h1v1h-1zM707 508h1v1h-1zM711 508h1v1h-1zM715 508h1v1h-1zM719 508h1v1h-1zM723 508h1v1h-1zM727 508h1v1h-1z"/>
<rect x="2" y="2" width="959" height="1" fill="#000"/>
<rect x="2" y="423" width="959" height="1" fill="#000"/>
<rect x="2" y="2" width="1" height="422" fill="#000"/>
<rect x="960" y="2" width="1" height="422" fill="#000"/>
<rect x="2" y="425" width="959" height="1" fill="#000"/>
<rect x="2" y="483" width="959" height="1" fill="#000"/>
<rect x="2" y="425" width="1" height="59" fill="#000"/>
<rect x="960" y="425" width="1" height="59" fill="#000"/>
<rect x="2" y="485" width="959" height="1" fill="#000"/>
<rect x="2" y="532" width="959" height="1" fill="#000"/>
<rect x="2" y="485" width="1" height="48" fill="#000"/>
<rect x="960" y="485" width="1" height="48" fill="#000"/>
<rect x="961" y="12" width="2" height="1" fill="#000"/>
<text y="17" fill="#000" stroke="#000" stroke-width="0.2" font-size="12.6"><tspan x="967.4" textLength="45.3" lengthAdjust="spacingAndGlyphs">1.00930</tspan></text>
<rect x="961" y="61" width="2" height="1" fill="#000"/>
<text y="66" fill="#000" stroke="#000" stroke-width="0.2" font-size="12.6"><tspan x="967.4" textLength="45.3" lengthAdjust="spacingAndGlyphs">0.99830</tspan></text>
<rect x="961" y="110" width="2" height="1" fill="#000"/>
<text y="115" fill="#000" stroke="#000" stroke-width="0.2" font-size="12.6"><tspan x="967.4" textLength="45.3" lengthAdjust="spacingAndGlyphs">0.98710</tspan></text>
<rect x="961" y="159" width="2" height="1" fill="#000"/>
<text y="164" fill="#000" stroke="#000" stroke-width="0.2" font-size="12.6"><tspan x="967.4" textLength="45.3" lengthAdjust="spacingAndGlyphs">0.97590</tspan></text>
<rect x="961" y="208" width="2" height="1" fill="#000"/>
<text y="213" fill="#000" stroke="#000" stroke-width="0.2" font-size="12.6"><tspan x="967.4" textLength="45.3" lengthAdjust="spacingAndGlyphs">0.96510</tspan></text>
<rect x="961" y="257" width="2" height="1" fill="#000"/>
<text y="262" fill="#000" stroke="#000" stroke-width="0.2" font-size="12.6"><tspan x="967.4" textLength="45.3" lengthAdjust="spacingAndGlyphs">0.95390</tspan></text>
<rect x="961" y="306" width="2" height="1" fill="#000"/>
<text y="311" fill="#000" stroke="#000" stroke-width="0.2" font-size="12.6"><tspan x="967.4" textLength="45.3" lengthAdjust="spacingAndGlyphs">0.94290</tspan></text>
<rect x="961" y="355" width="2" height="1" fill="#000"/>
<text y="360" fill="#000" stroke="#000" stroke-width="0.2" font-size="12.6"><tspan x="967.4" textLength="45.3" lengthAdjust="spacingAndGlyphs">0.93170</tspan></text>
<rect x="961" y="404" width="2" height="1" fill="#000"/>
<text y="409" fill="#000" stroke="#000" stroke-width="0.2" font-size="12.6"><tspan x="967.4" textLength="45.3" lengthAdjust="spacingAndGlyphs">0.92070</tspan></text>
<rect x="962" y="149" width="56" height="14" fill="#000"/>
<text y="161" fill="#fff" stroke="#fff" stroke-width="0.2" font-size="12.6"><tspan x="967.4" textLength="45.3" lengthAdjust="spacingAndGlyphs">0.97684</tspan></text>
<rect x="941" y="10" width="19" height="13" fill="#fff"/>
<text y="21" fill="#008000" stroke="#008000" stroke-width="0" font-size="12.6"><tspan x="941.5" textLength="17.3" lengthAdjust="spacingAndGlyphs">0.0</tspan></text>
<rect x="934" y="102" width="26" height="13" fill="#fff"/>
<text y="113" fill="#008000" stroke="#008000" stroke-width="0" font-size="12.6"><tspan x="934.5" textLength="24.3" lengthAdjust="spacingAndGlyphs">23.6</tspan></text>
<rect x="934" y="159" width="26" height="13" fill="#fff"/>
<text y="170" fill="#008000" stroke="#008000" stroke-width="0" font-size="12.6"><tspan x="934.5" textLength="24.3" lengthAdjust="spacingAndGlyphs">38.2</tspan></text>
<rect x="934" y="205" width="26" height="13" fill="#fff"/>
<text y="216" fill="#008000" stroke="#008000" stroke-width="0" font-size="12.6"><tspan x="934.5" textLength="24.3" lengthAdjust="spacingAndGlyphs">50.0</tspan></text>
<rect x="934" y="251" width="26" height="13" fill="#fff"/>
<text y="262" fill="#008000" stroke="#008000" stroke-width="0" font-size="12.6"><tspan x="934.5" textLength="24.3" lengthAdjust="spacingAndGlyphs">61.8</tspan></text>
<rect x="927" y="400" width="33" height="13" fill="#fff"/>
<text y="411" fill="#008000" stroke="#008000" stroke-width="0" font-size="12.6"><tspan x="927.5" textLength="31.3" lengthAdjust="spacingAndGlyphs">100.0</tspan></text>
<path fill="#000" d="M6 10h9v1h-9zM7 11h7v1h-7zM8 12h5v1h-5zM9 13h3v1h-3zM10 14h1v1h-1z"/>
<text y="17" fill="#000" stroke="#000" stroke-width="0.2" font-size="12.6"><tspan x="20.7" textLength="70.8" lengthAdjust="spacingAndGlyphs">USDCHF,Daily</tspan> <tspan x="101.5" textLength="45.3" lengthAdjust="spacingAndGlyphs">0.97949</tspan> <tspan x="151.5" textLength="45.3" lengthAdjust="spacingAndGlyphs">0.98094</tspan> <tspan x="201.5" textLength="45.3" lengthAdjust="spacingAndGlyphs">0.97650</tspan> <tspan x="251.5" textLength="45.3" lengthAdjust="spacingAndGlyphs">0.97684</tspan></text>
<text y="441" fill="#000" stroke="#000" stroke-width="0.2" font-size="12.6"><tspan x="7" textLength="41.3" lengthAdjust="spacingAndGlyphs">RSI(14)</tspan> <tspan x="53" textLength="45.3" lengthAdjust="spacingAndGlyphs">30.9342</tspan></text>
<text y="501" fill="#000" stroke="#000" stroke-width="0.2" font-size="12.6"><tspan x="7" textLength="84.3" lengthAdjust="spacingAndGlyphs">MACD(12,26,9)</tspan> <tspan x="96" textLength="56.3" lengthAdjust="spacingAndGlyphs">-0.003437</tspan> <tspan x="157" textLength="56.3" lengthAdjust="spacingAndGlyphs">-0.001281</tspan></text>
<text y="439" fill="#000" stroke="#000" stroke-width="0.2" font-size="12.6"><tspan x="963.7" textLength="20.3" lengthAdjust="spacingAndGlyphs">100</tspan></text>
<text y="448" fill="#000" stroke="#000" stroke-width="0.2" font-size="12.6"><tspan x="963" textLength="13.3" lengthAdjust="spacingAndGlyphs">70</tspan></text>
<text y="471" fill="#000" stroke="#000" stroke-width="0.2" font-size="12.6"><tspan x="963" textLength="13.3" lengthAdjust="spacingAndGlyphs">30</tspan></text>
<text y="480" fill="#000" stroke="#000" stroke-width="0.2" font-size="12.6"><tspan x="963.7" textLength="6.3" lengthAdjust="spacingAndGlyphs">0</tspan></text>
<rect x="961" y="427" width="1" height="1" fill="#000"/>
<rect x="961" y="482" width="1" height="1" fill="#000"/>
<text y="499" fill="#000" stroke="#000" stroke-width="0.2" font-size="12.6"><tspan x="963.7" textLength="52.3" lengthAdjust="spacingAndGlyphs">0.013313</tspan></text>
<text y="513" fill="#000" stroke="#000" stroke-width="0.2" font-size="12.6"><tspan x="963.7" textLength="24.3" lengthAdjust="spacingAndGlyphs">0.00</tspan></text>
<text y="529" fill="#000" stroke="#000" stroke-width="0.2" font-size="12.6"><tspan x="963.7" textLength="49.3" lengthAdjust="spacingAndGlyphs">-0.01434</tspan></text>
<rect x="961" y="487" width="1" height="1" fill="#000"/>
<rect x="961" y="508" width="1" height="1" fill="#000"/>
<rect x="961" y="531" width="1" height="1" fill="#000"/>
<rect x="3" y="532" width="1" height="4" fill="#000"/>
<text y="548" fill="#000" stroke="#000" stroke-width="0.2" font-size="12.6"><tspan x="2.3" textLength="7" lengthAdjust="spacingAndGlyphs">8</tspan> <tspan x="13.3" textLength="20" lengthAdjust="spacingAndGlyphs">Dec</tspan> <tspan x="37.3" textLength="28" lengthAdjust="spacingAndGlyphs">2017</tspan></text>
<rect x="99" y="532" width="1" height="4" fill="#000"/>
<text y="548" fill="#000" stroke="#000" stroke-width="0.2" font-size="12.6"><tspan x="98.3" textLength="14" lengthAdjust="spacingAndGlyphs">15</tspan> <tspan x="116.3" textLength="17.5" lengthAdjust="spacingAndGlyphs">Jan</tspan> <tspan x="137.8" textLength="28" lengthAdjust="spacingAndGlyphs">2018</tspan></text>
<rect x="195" y="532" width="1" height="4" fill="#000"/>
<text y="548" fill="#000" stroke="#000" stroke-width="0.2" font-size="12.6"><tspan x="194.3" textLength="14" lengthAdjust="spacingAndGlyphs">16</tspan> <tspan x="212.3" textLength="19" lengthAdjust="spacingAndGlyphs">Feb</tspan> <tspan x="235.3" textLength="28" lengthAdjust="spacingAndGlyphs">2018</tspan></text>
<rect x="291" y="532" width="1" height="4" fill="#000"/>
<text y="548" fill="#000" stroke="#000" stroke-width="0.2" font-size="12.6"><tspan x="290.3" textLength="14" lengthAdjust="spacingAndGlyphs">22</tspan> <tspan x="308.3" textLength="19.5" lengthAdjust="spacingAndGlyphs">Mar</tspan> <tspan x="331.8" textLength="28" lengthAdjust="spacingAndGlyphs">2018</tspan></text>
<rect x="387" y="532" width="1" height="4" fill="#000"/>
<text y="548" fill="#000" stroke="#000" stroke-width="0.2" font-size="12.6"><tspan x="386.3" textLength="14" lengthAdjust="spacingAndGlyphs">25</tspan> <tspan x="404.3" textLength="18.5" lengthAdjust="spacingAndGlyphs">Apr</tspan> <tspan x="426.8" textLength="28" lengthAdjust="spacingAndGlyphs">2018</tspan></text>
<rect x="483" y="532" width="1" height="4" fill="#000"/>
<text y="548" fill="#000" stroke="#000" stroke-width="0.2" font-size="12.6"><tspan x="482.3" textLength="14" lengthAdjust="spacingAndGlyphs">29</tspan> <tspan x="500.3" textLength="21.5" lengthAdjust="spacingAndGlyphs">May</tspan> <tspan x="525.8" textLength="28" lengthAdjust="spacingAndGlyphs">2018</tspan></text>
<rect x="579" y="532" width="1" height="4" fill="#000"/>
<text y="548" fill="#000" stroke="#000" stroke-width="0.2" font-size="12.6"><tspan x="578.3" textLength="7" lengthAdjust="spacingAndGlyphs">2</tspan> <tspan x="589.3" textLength="14" lengthAdjust="spacingAndGlyphs">Jul</tspan> <tspan x="607.3" textLength="28" lengthAdjust="spacingAndGlyphs">2018</tspan></text>
<rect x="675" y="532" width="1" height="4" fill="#000"/>
<text y="548" fill="#000" stroke="#000" stroke-width="0.2" font-size="12.6"><tspan x="674.3" textLength="7" lengthAdjust="spacingAndGlyphs">3</tspan> <tspan x="685.3" textLength="21.5" lengthAdjust="spacingAndGlyphs">Aug</tspan> <tspan x="710.8" textLength="28" lengthAdjust="spacingAndGlyphs">2018</tspan></text>
</svg>
</body>
</html>
